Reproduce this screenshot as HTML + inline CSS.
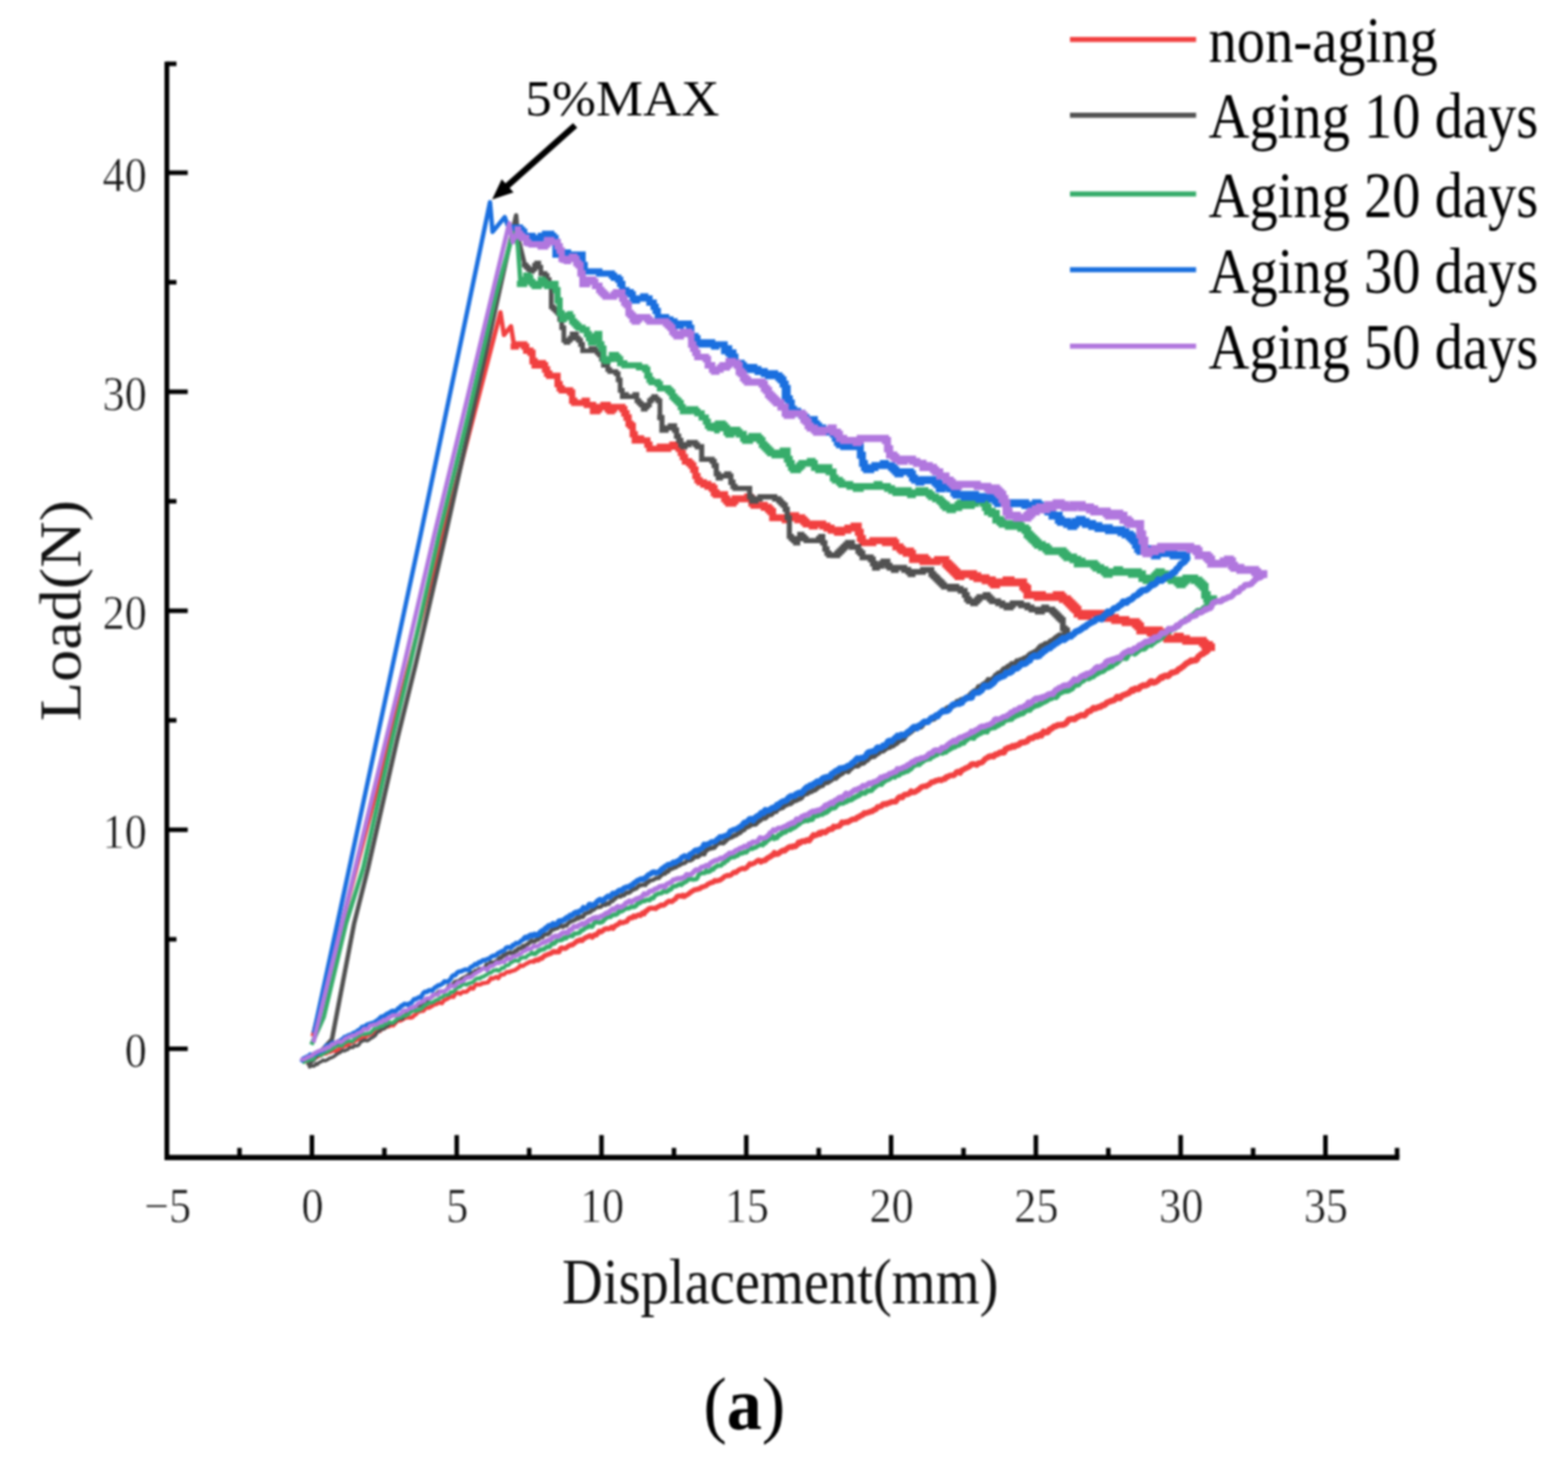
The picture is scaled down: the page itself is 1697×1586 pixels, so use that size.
<!DOCTYPE html>
<html lang="en">
<head>
<meta charset="utf-8">
<title>Load-displacement curves (a)</title>
<style>
html,body{margin:0;padding:0;background:#fff;}
body{width:1697px;height:1586px;overflow:hidden;font-family:"Liberation Serif",serif;}
svg{display:block;}
svg text{font-family:"Liberation Serif",serif;}
</style>
</head>
<body>
<svg width="1697" height="1586" viewBox="0 0 1697 1586">
<defs><filter id="soft" filterUnits="userSpaceOnUse" x="0" y="0" width="1697" height="1586" color-interpolation-filters="sRGB"><feGaussianBlur stdDeviation="0.85"/></filter></defs>
<rect x="0" y="0" width="1697" height="1586" fill="#ffffff"/>
<g filter="url(#soft)">
<g fill="none" stroke="#F14040" stroke-linejoin="miter" stroke-linecap="square">
<path d="M1309.8 700.5 L1308.2 702.5 L1307.1 704.3 L1305.5 705.7 L1304.0 704.4 L1302.3 707.8 L1300.6 707.8 L1298.8 709.4 L1296.9 710.7 L1295.5 713.9 L1294.0 715.0 L1292.2 714.6 L1290.4 715.6 L1289.1 715.0 L1287.7 716.3 L1285.5 717.4 L1283.2 718.9 L1281.9 720.2 L1280.7 721.4 L1279.0 722.4 L1277.4 723.9 L1275.5 724.5 L1273.6 726.9 L1271.9 727.2 L1270.2 728.1 L1268.1 728.2 L1266.0 730.1 L1264.8 731.6 L1263.5 732.1 L1261.5 731.3 L1259.4 732.2 L1258.0 733.8 L1256.6 733.2 L1254.8 734.9 L1252.9 737.0 L1250.6 738.4 L1248.3 739.2 L1246.9 737.7 L1245.5 737.6 L1243.8 739.4 L1242.1 741.2 L1239.7 742.1 L1237.3 741.8 L1235.7 743.0 L1234.0 743.5 L1232.5 745.9 L1231.0 746.1 L1228.7 745.4 L1226.5 747.8 L1225.2 746.7 L1223.9 747.9 L1221.7 750.3 L1219.4 751.1 L1218.0 751.9 L1216.5 752.2 L1214.3 753.3 L1212.1 755.8 L1210.5 754.5 L1208.9 754.4 L1207.4 756.7 L1205.9 757.9 L1203.7 758.5 L1201.4 759.2 L1199.7 760.0 L1197.9 760.7 L1196.3 762.4 L1194.7 763.5 L1192.8 763.7 L1190.8 765.5 L1188.9 765.4 L1186.9 766.4 L1185.2 767.1 L1183.5 766.4 L1181.7 768.1 L1179.9 769.9 L1178.6 769.9 L1177.4 770.2 L1175.4 772.8 L1173.5 774.7 L1171.8 774.3 L1170.2 774.1 L1167.9 775.5 L1165.6 776.2 L1164.3 777.6 L1162.9 778.8 L1160.7 778.2 L1158.4 778.6 L1156.9 778.8 L1155.4 780.8 L1153.7 782.9 L1152.0 784.1 L1150.0 784.7 L1148.0 784.7 L1146.5 785.0 L1145.0 784.9 L1143.0 786.1 L1141.0 786.5 L1139.2 787.9 L1137.4 789.3 L1135.8 789.7 L1134.1 792.6 L1131.8 792.9 L1129.5 792.0 L1128.2 793.7 L1127.0 796.2 L1125.0 795.3 L1122.9 797.4 L1120.9 796.7 L1119.0 798.1 L1117.4 799.2 L1115.8 799.0 L1113.7 799.9 L1111.5 802.6 L1110.2 802.9 L1108.8 803.7 L1106.7 803.6 L1104.6 804.3 L1102.7 806.1 L1100.7 806.9 L1099.2 807.0 L1097.6 808.4 L1095.6 807.7 L1093.6 809.4 L1091.6 809.3 L1089.6 810.6 L1088.1 811.0 L1086.7 814.6 L1084.4 814.4 L1082.1 814.8 L1080.8 815.7 L1079.5 816.5 L1077.3 816.9 L1075.1 819.0 L1073.6 818.6 L1072.0 818.8 L1070.4 819.2" stroke-width="6.7" stroke-linejoin="round" stroke-linecap="round"/>
<path d="M1070.4 819.2 L1068.8 820.2 L1066.7 821.2 L1064.7 823.4 L1062.9 825.3 L1061.1 825.9 L1059.1 826.1 L1057.0 828.2 L1055.0 827.4 L1053.0 827.1 L1051.2 827.6 L1049.4 829.6 L1047.6 830.7 L1045.9 831.4 L1044.4 832.0 L1042.9 833.1 L1040.9 833.8 L1039.0 836.7 L1037.2 835.3 L1035.4 835.7 L1033.9 837.7 L1032.3 839.3 L1030.0 839.3 L1027.7 839.7 L1025.9 841.2 L1024.1 841.2 L1022.6 843.4 L1021.1 843.2 L1018.8 844.8 L1016.6 844.2 L1014.8 844.9 L1012.9 845.1 L1011.3 846.3 L1009.7 846.6 L1007.7 847.1 L1005.8 849.4 L1004.1 849.9 L1002.4 851.2 L1000.5 851.2 L998.6 851.5 L997.0 852.3 L995.5 853.7 L993.6 855.3 L991.8 856.3 L989.7 857.6 L987.7 857.6 L986.1 856.5 L984.6 858.7 L982.7 859.7 L980.7 860.2 L978.7 860.3 L976.7 863.3 L975.4 863.4 L974.1 862.6 L971.8 864.3 L969.5 867.9 L967.6 868.0 L965.7 867.8 L963.9 868.5 L962.0 869.5 L960.6 869.6 L959.1 870.6 L957.4 870.3 L955.8 870.5 L953.9 872.8 L952.0 873.4 L949.9 873.5 L947.9 876.3 L945.9 876.8 L944.0 878.3 L942.0 878.5 L940.1 879.5 L938.6 879.8 L937.2 880.5 L935.4 880.2 L933.5 882.3 L931.5 883.0 L929.6 884.5 L927.9 884.8 L926.3 886.6 L924.4 886.8 L922.4 887.1 L920.9 888.0 L919.4 888.8 L917.4 890.1 L915.5 889.8 L913.4 890.7 L911.2 890.2 L909.8 892.6 L908.4 894.4 L906.0 894.6 L903.7 895.4 L902.2 894.8 L900.7 897.7 L898.8 897.5 L896.8 898.2 L894.9 899.7 L893.0 901.4 L891.0 900.6 L889.1 900.8 L887.8 902.8 L886.4 901.8 L884.1 903.8 L881.8 904.6 L880.3 904.0 L878.8 906.0 L877.3 907.9 L875.7 910.2 L873.3 909.3 L871.0 911.1 L869.2 910.6 L867.4 911.1 L865.9 912.8 L864.3 911.9 L862.4 915.0 L860.5 916.4 L858.8 915.9 L857.1 917.2 L855.4 916.6 L853.7 917.3 L851.4 919.0 L849.2 921.1 L847.4 920.5 L845.7 921.6 L843.9 922.9 L842.1 924.4 L840.1 924.6 L838.1 923.2 L836.8 925.6 L835.5 926.0 L833.6 927.5 L831.8 928.3 L829.9 929.6 L828.0 931.4 L825.7 931.7 L823.5 932.9" stroke-width="6.2" stroke-linejoin="round" stroke-linecap="round"/>
<path d="M823.5 932.9 L822.2 931.6 L820.9 931.2 L819.0 932.3 L817.1 934.1 L815.1 934.8 L813.1 935.7 L811.5 935.1 L809.8 937.4 L807.8 939.6 L805.8 940.7 L803.9 940.0 L801.9 940.8 L800.0 941.5 L798.1 943.1 L796.3 944.7 L794.6 944.2 L792.7 945.7 L790.7 947.5 L789.1 948.0 L787.5 947.6 L785.9 948.2 L784.3 948.8 L782.5 950.5 L780.7 951.8 L779.0 953.0 L777.3 953.1 L775.4 953.8 L773.5 953.2 L771.5 955.3 L769.4 955.4 L767.8 956.5 L766.2 957.0 L764.3 958.9 L762.4 959.5 L760.9 960.1 L759.3 960.5 L757.4 962.0 L755.4 962.5 L753.4 963.0 L751.5 963.3 L749.9 964.3 L748.3 965.4 L746.7 966.4 L745.1 967.9 L742.8 969.2 L740.4 970.7 L739.0 969.1 L737.6 970.4 L735.2 969.8 L732.8 970.5 L731.1 973.2 L729.5 973.9 L727.6 975.9 L725.8 976.1 L724.3 975.4 L722.7 976.3 L721.0 977.7 L719.3 979.4 L717.4 980.1 L715.4 979.7 L713.3 981.2 L711.2 982.1 L709.7 983.7 L708.2 983.3 L706.0 983.3 L703.8 983.2 L701.9 984.0 L700.0 986.3 L698.6 986.3 L697.2 989.3 L695.2 988.4 L693.2 991.1 L691.4 990.4 L689.6 991.1 L687.7 992.7 L685.9 991.7 L684.2 993.7 L682.6 993.4 L680.4 994.6 L678.3 997.6 L676.7 997.9 L675.1 998.6 L673.1 999.0 L671.2 998.3 L669.5 1000.3 L667.7 1001.3 L665.6 1002.4 L663.5 1005.0 L661.9 1003.6 L660.2 1005.0 L658.3 1005.6 L656.3 1005.3 L654.3 1005.8 L652.3 1007.7 L650.4 1008.9 L648.5 1008.2 L647.0 1010.1 L645.4 1012.3 L643.2 1012.1 L641.0 1014.6 L639.7 1013.8 L638.4 1012.8 L636.1 1014.1 L633.7 1015.1 L631.8 1016.3 L629.9 1018.3 L628.1 1017.3 L626.3 1018.7 L625.0 1018.4 L623.7 1019.5 L621.5 1021.4 L619.3 1023.0 L617.3 1023.1 L615.3 1024.1 L613.4 1025.7 L611.5 1026.7 L609.7 1026.5 L607.9 1026.2 L606.4 1027.1 L605.0 1030.5 L603.2 1030.2 L601.3 1030.7 L599.5 1030.0 L597.7 1031.0 L595.9 1032.4 L594.1 1032.7 L591.8 1033.7 L589.5 1034.6 L588.0 1035.8 L586.5 1037.6 L584.5 1037.7 L582.5 1039.5 L581.0 1039.1 L579.5 1039.4 L577.6 1040.7" stroke-width="5.5" stroke-linejoin="round" stroke-linecap="round"/>
<path d="M577.6 1040.7 L575.8 1041.1 L574.0 1041.0 L572.2 1042.0 L569.8 1043.3 L567.5 1044.6 L566.1 1045.5 L564.8 1045.9 L563.0 1045.2 L561.2 1047.8 L559.4 1048.8 L557.6 1050.1 L555.2 1050.8 L552.8 1051.5 L551.0 1052.4 L549.2 1052.1 L547.4 1053.1 L545.5 1054.9 L543.6 1054.9 L541.7 1055.6 L540.4 1057.5 L539.1 1059.1 L537.2 1057.6 L535.3 1058.6 L533.4 1059.6 L531.4 1058.9 L529.7 1061.5 L528.0 1063.5 L526.0 1063.9 L524.1 1064.2 L522.0 1064.5 L519.9 1065.7 L518.0 1066.0 L516.0 1065.6 L514.2 1066.7 L512.3 1070.2 L510.9 1070.2 L509.5 1069.2 L507.3 1071.4 L505.1 1073.5 L503.4 1073.9 L501.6 1073.6 L499.8 1074.5 L498.1 1075.9 L496.1 1075.0 L494.0 1075.0 L492.4 1076.7 L490.8 1079.4 L489.0 1078.8 L487.2 1079.4 L485.7 1080.1 L484.2 1081.4 L482.2 1082.1 L480.2 1083.3 L478.4 1086.1 L476.6 1085.6 L475.2 1085.1 L473.8 1086.2 L471.7 1087.4 L469.6 1087.0 L468.1 1089.0 L466.5 1089.6 L464.6 1090.9 L462.7 1090.9 L460.5 1091.6 L458.3 1094.3 L456.8 1094.5 L455.2 1094.2 L453.5 1095.4 L451.7 1095.8 L450.1 1098.3 L448.5 1099.0 L446.4 1101.2 L444.3 1101.8 L442.7 1101.6 L441.1 1101.6 L439.2 1101.7 L437.3 1102.7 L435.2 1104.1 L433.2 1105.1 L431.8 1104.8 L430.4 1104.6 L428.0 1107.5 L425.7 1110.1 L424.3 1109.1 L423.0 1110.0 L420.7 1111.3 L418.5 1111.0 L416.6 1112.9 L414.6 1113.2 L412.9 1113.6 L411.2 1116.2 L409.8 1115.2 L408.3 1116.2 L406.6 1117.3 L404.9 1118.9 L402.5 1119.4 L400.0 1119.8 L398.5 1120.5 L397.0 1120.6 L395.1 1123.3 L393.3 1124.5 L391.7 1123.5 L390.1 1123.6 L387.8 1124.9 L385.6 1125.9 L384.0 1127.3 L382.4 1127.6 L380.4 1129.0 L378.5 1129.0 L377.0 1131.2 L375.5 1131.6 L373.3 1132.0 L371.1 1133.2 L369.7 1132.8 L368.3 1134.4 L366.1 1136.6 L363.8 1137.8 L361.9 1137.6 L360.1 1137.2 L358.5 1138.3 L357.0 1139.1 L355.1 1138.9 L353.1 1140.6 L351.0 1140.8 L348.9 1140.9 L347.5 1142.4 L346.0 1142.6 L343.8 1144.0 L341.6 1145.0 L340.2 1146.5 L338.9 1145.5 L337.0 1148.2 L335.1 1148.4 L333.0 1150.0" stroke-width="4.5" stroke-linejoin="round" stroke-linecap="round"/>
<path d="M338.4 1122.0 L403.0 873.0 L512.7 450.0 L541.6 338.1 L545.4 362.7 L553.0 353.2 L556.7 375.9" stroke-width="4.8" stroke-linecap="butt" stroke-linejoin="round"/>
<path d="M556.0 375.2H558.2V372.9H560.5H562.7H565.0H567.3V375.2H569.5V377.4V379.7H571.8H574.0V381.9H576.3V386.5V388.7V391.0H578.6V393.2V395.5H580.8V393.2H583.1H587.6V395.5H589.9V397.8V400.0H592.1V402.3V404.5H594.4V406.8H596.6H598.9H601.2H603.4V409.1V411.3V415.8H605.7V418.1V420.4H607.9V422.6H610.2H612.5H614.7V420.4V422.6H617.0V424.9H619.2V427.1V431.7V433.9H621.5V436.2H623.8H626.0H628.3H630.5H632.8V433.9H635.1V436.2V438.4H637.3H639.6H641.8V443.0V445.2H644.1H646.4V443.0H648.6V440.7H650.9V438.4V440.7H653.1V438.4H655.4V436.2V438.4H657.7V443.0H659.9V445.2H662.2V443.0H664.4V440.7H666.7H669.0H671.2V438.4V440.7H673.5V443.0H675.7V447.5H678.0V449.7V452.0H680.3V454.3V456.5V458.8H682.5V461.0H684.8V463.3V465.6V467.8V470.1H687.0V472.3V474.6V476.9H689.3V474.6H693.8V476.9H696.1H698.3H700.6V479.1V481.4H702.9V483.6V485.9H707.4H709.6H711.9H714.2V483.6H716.4H718.7V485.9H720.9H723.2V483.6H727.7V481.4H730.0H732.2V483.6H734.5V485.9H736.8V488.2V490.4H739.0V492.7V494.9H741.3V497.2V499.5H743.5H745.8V501.7H748.1V504.0H750.3V506.2V508.5H752.6V510.8V513.0V515.3H754.8V517.5V519.8H757.1V522.1H759.4H761.6V524.3" stroke-width="6.8"/>
<path d="M761.6 524.3H763.9H766.1V526.6H768.4H770.7V528.8H772.9V533.4H775.2V535.6H777.4H779.7H782.0H784.2V537.9V540.1H786.5V542.4H788.7V544.7H791.0V546.9V544.7H793.3V542.4H795.5V540.1H797.8H800.0H802.3H804.6H806.8H809.1V537.9H811.3V540.1H813.6V542.4V544.7H815.9V546.9H818.1H820.4H822.6H824.9H827.2V549.2H829.4H831.7V551.4H833.9V553.7H836.2V556.0V558.2V560.5H838.5H840.7H845.2H847.5H849.8V562.7H852.0V560.5H854.3H856.5V558.2H858.8H861.1V560.5H863.3V562.7H865.6V560.5H867.8V562.7H870.1V565.0H872.4V567.3H874.6H876.9H879.1V569.5H881.4V567.3H883.7H885.9H888.2H890.4V569.5H892.7H895.0V571.8H897.2H899.5V574.0H901.7H904.0H906.3V576.3H908.5H910.8V574.0H915.3H917.6V571.8H919.8H922.1H924.3V569.5H926.6H928.9V571.8V574.0V576.3H931.1V578.6V580.8V583.1H933.4V585.3V587.6H935.6H937.9H940.2H942.4H944.7V585.3H949.2H951.5H953.7H956.0H958.2V587.6H960.5H962.8V585.3H965.0H967.3V587.6H969.5V589.9V592.1H971.8H974.1V594.4H976.3V596.6H978.6H980.8V598.9H983.1V596.6H985.4V598.9H987.6V603.4V605.7H989.9H992.1H994.4V603.4H996.7H998.9H1001.2V605.7H998.9V607.9H1001.2V605.7H1003.4V607.9H1005.7H1008.0H1012.5H1014.7V605.7H1017.0H1019.3H1021.5H1023.8V607.9V610.2" stroke-width="7.5"/>
<path d="M1023.8 610.2H1026.0V612.5H1028.3V614.7H1030.6V617.0H1032.8V619.2H1035.1V621.5H1037.3V623.8H1039.6V621.5H1041.9H1044.1H1046.4H1048.6H1050.9H1053.2V623.8H1055.4H1057.7V626.0H1059.9H1062.2H1064.5H1066.7V628.3H1069.0H1071.2H1073.5V630.5H1075.8V632.8H1078.0V630.5H1080.3H1082.5H1084.8H1087.1H1089.3V628.3H1091.6H1093.8V630.5H1096.1H1098.4H1100.6H1102.9H1105.1H1107.4V635.1H1109.7V637.3H1111.9V639.6V644.1H1114.2H1116.4H1121.0H1123.2V646.4H1125.5V644.1H1127.7V646.4H1130.0H1132.3H1134.5H1136.8H1139.0H1141.3H1143.6V644.1H1145.8H1148.1V646.4H1150.3V648.6H1152.6H1154.9V650.9H1157.1V653.1H1159.4V655.4H1161.6V657.7H1163.9V659.9H1166.2V662.2V664.4H1168.4H1170.7V666.7H1172.9H1177.5V664.4H1179.7H1182.0H1184.2H1186.5H1188.8H1191.0H1193.3H1195.5V666.7H1197.8V669.0H1200.1H1202.3H1204.6H1206.8V671.2H1209.1H1211.4H1213.6H1215.9H1218.1V673.5H1220.4H1222.7H1224.9H1227.2H1229.4V675.7H1231.7V678.0H1234.0V680.3V682.5H1236.2H1238.5H1240.7H1243.0H1245.3V684.8H1247.5H1249.8V682.5H1252.0H1254.3V684.8H1256.6H1258.8V687.0H1261.1V689.3H1263.3V691.6H1265.6H1263.3H1265.6H1267.9H1270.1H1272.4H1274.6V689.3H1276.9V691.6H1279.2H1281.4H1283.7V693.8H1288.2H1290.5H1292.7H1295.0H1297.2H1299.5H1301.8V696.1H1304.0V698.3H1306.3H1308.5V700.6H1310.8" stroke-width="8.4"/>
</g>
<g fill="none" stroke="#515151" stroke-linejoin="miter" stroke-linecap="square">
<path d="M1154.2 684.2 L1152.1 686.2 L1150.1 687.9 L1148.6 687.9 L1147.0 687.3 L1145.3 688.2 L1143.6 689.5 L1142.3 690.3 L1141.0 691.6 L1138.9 693.3 L1136.9 693.9 L1135.1 695.8 L1133.3 697.1 L1131.5 696.6 L1129.6 698.2 L1127.9 698.9 L1126.2 699.5 L1124.5 701.2 L1122.9 703.2 L1121.0 705.0 L1119.1 705.9 L1117.3 706.9 L1115.5 707.6 L1114.3 708.3 L1113.2 709.5 L1111.2 711.9 L1109.2 712.0 L1107.4 713.2 L1105.7 714.3 L1104.0 714.3 L1102.4 716.5 L1100.5 715.5 L1098.6 717.9 L1096.8 719.2 L1095.0 718.4 L1093.2 720.4 L1091.4 721.1 L1089.8 722.3 L1088.2 723.6 L1086.5 723.9 L1084.8 725.8 L1083.4 727.7 L1082.1 729.9 L1080.4 728.6 L1078.7 730.4 L1077.3 731.1 L1076.0 733.3 L1074.0 735.0 L1072.0 736.4 L1070.8 737.7 L1069.5 735.7 L1067.7 738.4 L1065.9 739.7 L1064.0 740.7 L1062.1 742.5 L1060.5 744.2 L1059.0 743.5 L1057.6 746.2 L1056.3 748.3 L1055.0 747.7 L1053.6 748.6 L1051.6 750.2 L1049.5 752.6 L1048.1 753.9 L1046.7 755.1 L1044.8 755.4 L1042.9 757.0 L1041.5 757.4 L1040.1 757.4 L1038.0 759.1 L1035.8 759.3 L1034.4 762.2 L1033.0 762.9 L1031.6 764.3 L1030.2 764.8 L1028.1 765.6 L1026.0 766.0 L1024.4 766.9 L1022.7 769.5 L1020.9 769.9 L1019.0 771.1 L1017.5 772.4 L1015.9 774.4 L1014.3 774.5 L1012.7 775.7 L1011.3 778.2 L1009.9 778.6 L1007.9 779.1 L1006.0 779.6 L1004.4 781.0 L1002.9 782.2 L1001.1 781.8 L999.3 783.8 L997.9 785.9 L996.5 787.2 L995.0 786.5 L993.5 787.4 L991.7 788.5 L989.9 789.0 L987.9 790.5 L985.9 792.4 L984.6 793.2 L983.3 794.4 L981.8 794.9 L980.3 796.8 L978.4 799.8 L976.5 801.0 L974.5 801.5 L972.5 802.5 L971.3 804.2 L970.1 805.2 L968.4 805.1 L966.8 807.4 L964.8 807.9 L962.8 809.2 L961.0 809.3 L959.2 810.2 L957.6 811.5 L955.9 812.9" stroke-width="5.6" stroke-linejoin="round" stroke-linecap="round"/>
<path d="M955.9 812.9 L954.5 812.2 L953.0 812.7 L951.5 815.3 L950.0 816.0 L948.1 817.2 L946.2 819.2 L944.7 818.8 L943.1 819.5 L940.9 820.7 L938.7 823.2 L937.1 823.2 L935.4 825.8 L934.0 826.6 L932.5 825.6 L930.7 827.3 L928.9 829.3 L927.0 829.4 L925.1 829.4 L923.6 829.8 L922.0 831.7 L920.0 833.2 L918.1 835.6 L916.2 834.6 L914.3 834.7 L912.8 836.4 L911.2 837.9 L909.3 838.6 L907.3 840.3 L905.9 841.4 L904.6 842.8 L902.7 841.8 L900.7 843.9 L899.1 845.1 L897.5 846.1 L895.8 847.3 L894.1 847.2 L892.2 847.9 L890.2 850.6 L888.6 850.6 L887.0 851.7 L885.0 852.8 L883.0 854.7 L881.8 855.5 L880.7 855.0 L878.7 856.9 L876.7 857.4 L875.3 858.0 L873.8 859.4 L871.5 859.6 L869.1 860.8 L867.8 863.6 L866.4 864.5 L864.7 865.2 L863.1 865.8 L861.1 866.8 L859.1 866.9 L857.2 869.0 L855.3 870.3 L853.6 869.7 L851.9 871.2 L850.2 871.8 L848.4 873.0 L847.1 874.5 L845.8 874.7 L843.6 875.6 L841.4 875.9 L840.2 878.7 L838.9 878.5 L836.9 879.6 L834.9 882.0 L833.3 882.2 L831.6 881.7 L829.9 884.4 L828.2 885.9 L826.4 885.8 L824.7 885.3 L823.0 888.1 L821.3 889.1 L819.6 890.5 L817.8 892.4 L815.9 892.4 L814.0 892.8 L812.5 892.7 L811.0 894.5 L809.0 895.4 L806.9 894.9 L805.5 898.4 L804.1 898.4 L802.4 899.9 L800.7 901.6 L798.9 902.0 L797.2 903.8 L795.2 904.4 L793.1 905.5 L791.7 906.4 L790.3 906.6 L788.7 907.3 L787.1 908.6 L785.0 910.6 L782.9 912.8 L781.1 912.2 L779.2 912.7 L777.6 912.6 L776.1 913.8 L774.6 915.4 L773.1 917.5 L770.9 918.0 L768.6 918.6 L766.8 918.8 L765.0 920.4 L763.5 921.2 L762.1 924.7 L760.5 924.4 L758.9 923.8 L757.2 925.6 L755.6 927.3 L753.6 927.2 L751.6 927.7 L750.2 929.0" stroke-width="5.2" stroke-linejoin="round" stroke-linecap="round"/>
<path d="M750.2 929.0 L748.9 930.7 L746.6 931.7 L744.3 930.7 L742.8 932.7 L741.4 934.1 L739.2 934.7 L737.0 935.5 L735.1 937.0 L733.3 936.4 L731.6 939.0 L729.9 939.0 L728.0 940.2 L726.2 941.0 L724.7 940.8 L723.2 943.6 L721.5 943.4 L719.7 945.9 L717.7 945.6 L715.7 947.7 L714.4 948.5 L713.1 950.5 L710.9 950.5 L708.8 951.4 L706.8 952.6 L704.9 953.1 L703.1 953.5 L701.4 955.3 L699.9 955.2 L698.5 958.2 L696.9 957.6 L695.2 958.2 L692.9 958.2 L690.6 959.7 L688.8 961.7 L686.9 962.3 L685.6 963.2 L684.3 962.7 L682.2 965.5 L680.0 966.6 L678.7 966.3 L677.4 966.9 L675.3 969.3 L673.2 969.1 L671.5 970.7 L669.8 969.6 L667.8 970.7 L665.9 972.7 L664.4 973.6 L662.9 975.5 L660.9 975.8 L658.9 978.6 L657.0 978.0 L655.1 979.7 L653.7 978.3 L652.3 979.7 L650.0 981.7 L647.7 982.1 L646.3 981.7 L644.9 982.6 L642.7 984.7 L640.5 985.3 L639.1 987.3 L637.7 987.6 L635.7 988.4 L633.8 988.9 L632.3 990.3 L630.8 992.8 L628.5 992.2 L626.2 994.3 L624.8 993.2 L623.3 995.2 L621.4 996.2 L619.5 997.0 L618.1 997.4 L616.6 998.1 L614.8 999.7 L613.1 1001.9 L611.1 1002.0 L609.1 1003.5 L607.0 1002.1 L605.0 1003.2 L603.2 1004.8 L601.5 1005.0 L599.7 1006.0 L597.9 1006.1 L596.2 1008.0 L594.6 1010.1 L592.6 1011.5 L590.7 1011.5 L588.9 1011.7 L587.1 1014.5 L585.7 1013.3 L584.3 1015.0 L582.4 1017.2 L580.5 1017.4 L578.5 1019.2 L576.5 1019.1 L575.2 1018.4 L573.9 1019.7 L571.6 1021.8 L569.3 1023.2 L567.7 1024.8 L566.2 1024.1 L564.1 1026.5 L562.1 1026.6 L560.7 1027.2 L559.4 1029.3 L557.6 1029.4 L555.8 1031.5 L553.7 1031.7 L551.5 1031.0 L550.0 1032.1 L548.5 1032.5 L546.8 1034.2 L545.1 1034.0 L542.9 1036.6 L540.8 1036.9 L539.0 1039.2" stroke-width="4.6" stroke-linejoin="round" stroke-linecap="round"/>
<path d="M539.0 1039.2 L537.3 1040.2 L535.6 1041.0 L533.9 1042.5 L532.4 1041.4 L530.9 1041.3 L528.6 1044.0 L526.3 1043.9 L524.9 1046.7 L523.5 1048.5 L521.6 1048.5 L519.8 1048.5 L517.9 1049.0 L516.0 1051.2 L514.3 1050.6 L512.6 1052.4 L511.0 1053.0 L509.4 1052.7 L507.2 1055.2 L505.0 1056.4 L503.6 1057.5 L502.3 1057.8 L500.2 1059.1 L498.2 1060.4 L496.8 1061.6 L495.4 1061.9 L493.8 1062.2 L492.1 1062.8 L490.0 1065.5 L487.9 1066.1 L486.7 1067.9 L485.5 1067.0 L483.9 1070.9 L482.3 1071.9 L480.2 1073.2 L478.1 1073.5 L476.2 1074.1 L474.4 1073.5 L472.8 1075.8 L471.2 1075.8 L470.1 1077.4 L468.9 1078.2 L466.7 1080.2 L464.4 1081.7 L463.3 1082.5 L462.2 1084.9 L460.0 1084.1 L457.9 1086.0 L456.6 1086.3 L455.3 1088.1 L453.2 1089.1 L451.1 1089.6 L449.5 1090.0 L447.9 1092.3 L446.6 1093.8 L445.2 1095.3 L443.2 1094.0 L441.1 1095.9 L439.6 1097.7 L438.1 1099.6 L436.8 1100.4 L435.5 1103.2 L433.7 1102.3 L431.9 1103.1 L430.4 1102.4 L428.8 1105.6 L427.2 1106.2 L425.6 1108.0 L423.3 1107.9 L421.1 1108.8 L419.5 1110.9 L418.0 1111.9 L416.7 1112.1 L415.4 1113.9 L413.6 1114.3 L411.9 1115.2 L409.8 1116.7 L407.7 1118.4 L406.4 1120.8 L405.0 1121.9 L403.2 1123.1 L401.3 1124.1 L399.8 1125.2 L398.1 1126.7 L396.1 1126.6 L394.1 1125.9 L392.2 1127.2 L390.3 1127.8 L389.2 1129.9 L388.0 1131.5 L385.8 1132.3 L383.5 1131.9 L382.1 1133.9 L380.6 1133.9 L378.3 1134.2 L376.0 1136.5 L374.5 1136.8 L372.9 1137.8 L370.9 1137.0 L368.8 1139.0 L367.2 1139.9 L365.6 1140.6 L363.6 1141.8 L361.7 1143.5 L360.2 1144.4 L358.7 1145.0 L356.6 1145.6 L354.4 1147.3 L353.0 1147.8 L351.6 1148.5 L349.6 1147.7 L347.6 1149.4 L345.6 1150.0 L343.5 1152.3 L341.9 1151.4 L340.2 1154.0 L338.5 1154.2 L336.8 1153.6 L335.0 1155.0" stroke-width="3.7" stroke-linejoin="round" stroke-linecap="round"/>
<path d="M333.0 1154.0 L359.3 1125.0 L383.2 1000.0 L398.3 940.0 L430.0 800.0 L449.7 720.0 L482.0 580.0 L558.6 233.1 L560.5 256.7 L565.3 275.7 L568.1 287.0" stroke-width="4.8" stroke-linecap="butt" stroke-linejoin="round"/>
<path d="M567.3 287.0H569.5V289.3H571.8V291.5H574.0V293.8H576.3V291.5H578.6V287.0H580.8V284.8H583.1V287.0V289.3H585.3V293.8V296.1H587.6H589.9V298.3H592.1V300.6V302.8H594.4V305.1V307.4V309.6H596.6V314.1V316.4V320.9V323.2V325.4V327.7V330.0V332.2H598.9V334.5H601.2V336.7H603.4V339.0H605.7V341.3V343.5V345.8H607.9V348.0V352.6V354.8H610.2V357.1V359.3V361.6V363.9V366.1V368.4H612.5V370.6H614.7V368.4H617.0V366.1H619.2V363.9V361.6H621.5H623.8V363.9V366.1H626.0V368.4H628.3V370.6V372.9H630.5V375.2V377.4V379.7H632.8H635.1H637.3H639.6V377.4H641.8H644.1V379.7H646.4V381.9H648.6V384.2H650.9V386.5V388.7H653.1V391.0V395.5H655.4H657.7V397.8V400.0H659.9V402.3H662.2H664.4H666.7V404.5H669.0V406.8V409.1V411.3H671.2V413.6V415.8V418.1V420.4V422.6H673.5V424.9V429.4H675.7V427.1H678.0V429.4H680.3H682.5H684.8V431.7V429.4H687.0V427.1H689.3V429.4V433.9H691.6V436.2H693.8V438.4H696.1V440.7V443.0H698.3V440.7H700.6V438.4H702.9V436.2V433.9H705.1V431.7H707.4V429.4H709.6V431.7H711.9V433.9H714.2V438.4V443.0V445.2V447.5V449.7V452.0" stroke-width="5.1"/>
<path d="M714.2 452.0H716.4V456.5V458.8V461.0V463.3V465.6H718.7H720.9V463.3H723.2H725.5V461.0H727.7H730.0V463.3V465.6H732.2V470.1V472.3H734.5V474.6V476.9H736.8V479.1V481.4H739.0V483.6H741.3V481.4H743.5H745.8V479.1H748.1H750.3H752.6V481.4H754.8V483.6H757.1H759.4V485.9V488.2V490.4V492.7V494.9V497.2H763.9H766.1H768.4H770.7V499.5H772.9V501.7V504.0H775.2V508.5V510.8V513.0H777.4V515.3V517.5H779.7V515.3H782.0H784.2H786.5V513.0H788.7V515.3H791.0V517.5V519.8V522.1H793.3V524.3V526.6H795.5V528.8H797.8H800.0H802.3H804.6H806.8H809.1H811.3V531.1V533.4V537.9H813.6V540.1V542.4H815.9H818.1V540.1H820.4H822.6V537.9H824.9H827.2H829.4H831.7H833.9H836.2H838.5V540.1H840.7H843.0V542.4H845.2V544.7H847.5V546.9H849.8V549.2V551.4H852.0V553.7V556.0V558.2V560.5H854.3V562.7V565.0V567.3V569.5V571.8V574.0V576.3V578.6V580.8H856.5V583.1H858.8V585.3H861.1V587.6H863.3V585.3V583.1H865.6V580.8V578.6H867.8V580.8H870.1V583.1H872.4V585.3H874.6H876.9H879.1H881.4H883.7H885.9V583.1H888.2V580.8H890.4V583.1V587.6H892.7V589.9V592.1V594.4H895.0V596.6V598.9H897.2V601.2H901.7" stroke-width="5.6"/>
<path d="M901.7 601.2H904.0H906.3V598.9H908.5V596.6H910.8V594.4H913.0V592.1H915.3V589.9H917.6V587.6H919.8H922.1V592.1H924.3H926.6H928.9V594.4V596.6H931.1V598.9H933.4V601.2V603.4H935.6H937.9H940.2H942.4V605.7H944.7V610.2H946.9V612.5V614.7H949.2V612.5H951.5H953.7V610.2H956.0V607.9H958.2H960.5V612.5H962.8V614.7H965.0H967.3V617.0H969.5V614.7H971.8H974.1H976.3H978.6V617.0H980.8H983.1V619.2H985.4V621.5H987.6V619.2H989.9H992.1H994.4H996.7H998.9V617.0H1001.2H1003.4H1005.7H1008.0V619.2V621.5H1010.2V623.8H1012.5V626.0H1014.7V628.3H1017.0V630.5H1019.3V632.8H1021.5V635.1H1026.0H1028.3V637.3H1030.6H1032.8V635.1H1035.1V637.3H1037.3H1039.6V639.6H1041.9H1044.1V641.8V644.1H1046.4V648.6H1048.6V650.9H1050.9H1053.2V653.1H1055.4V650.9H1057.7V648.6H1059.9V646.4H1062.2H1064.5H1066.7V644.1H1069.0V646.4H1071.2V648.6H1073.5V650.9H1075.8H1078.0H1080.3V653.1H1082.5H1084.8V655.4H1087.1H1089.3V657.7H1091.6H1093.8V655.4H1096.1V653.1H1098.4H1100.6H1102.9H1105.1V655.4H1107.4H1109.7H1111.9V657.7H1114.2H1116.4V659.9H1118.7H1123.2V662.2H1125.5H1127.7V659.9H1130.0V657.7H1132.3V659.9H1134.5H1136.8H1139.0V662.2H1141.3V664.4H1143.6V666.7H1145.8V669.0H1148.1V671.2H1150.3V675.7V678.0V680.3H1152.6V682.5H1154.9V684.8" stroke-width="6.3"/>
</g>
<g fill="none" stroke="#37AD6B" stroke-linejoin="miter" stroke-linecap="square">
<path d="M1312.7 650.4 L1310.6 651.0 L1309.1 652.0 L1307.8 653.5 L1306.5 654.6 L1305.0 657.0 L1303.5 657.2 L1301.9 658.9 L1300.2 661.1 L1298.3 660.9 L1296.4 661.0 L1295.1 662.0 L1293.8 663.4 L1292.0 664.9 L1290.1 666.2 L1288.3 667.4 L1286.5 669.9 L1285.0 670.0 L1283.5 670.1 L1282.0 672.4 L1280.6 672.7 L1279.0 673.8 L1277.4 675.6 L1275.3 677.9 L1273.3 677.7 L1271.8 680.4 L1270.2 680.6 L1269.1 681.0 L1267.9 680.8 L1265.8 683.8 L1263.6 683.8 L1262.4 685.0 L1261.3 685.7 L1259.3 687.9 L1257.4 690.5 L1255.7 691.5 L1253.9 692.7 L1252.2 693.7 L1250.5 693.8 L1248.9 696.1 L1247.3 696.0 L1245.9 698.4 L1244.5 698.0 L1242.2 698.7 L1239.9 701.1 L1238.6 702.4 L1237.3 702.5 L1235.3 702.0 L1233.2 703.7 L1231.3 705.3 L1229.5 706.8 L1228.1 707.8 L1226.8 706.2 L1224.8 706.7 L1222.8 707.3 L1220.9 709.2 L1219.1 712.7 L1217.5 712.5 L1215.9 711.3 L1214.5 712.3 L1213.0 713.1 L1211.3 715.3 L1209.6 716.8 L1207.6 718.4 L1205.7 718.1 L1203.6 721.2 L1201.5 721.9 L1200.2 722.7 L1199.0 723.2 L1197.2 723.5 L1195.3 725.5 L1193.8 726.6 L1192.2 727.1 L1190.5 727.4 L1188.8 728.8 L1186.7 729.6 L1184.5 730.9 L1183.1 732.5 L1181.7 731.9 L1180.0 733.6 L1178.2 734.7 L1176.1 733.8 L1174.0 735.1 L1172.4 737.0 L1170.7 737.6 L1168.9 738.9 L1167.2 741.3 L1165.5 741.6 L1163.7 741.9 L1162.0 743.3 L1160.3 745.6 L1158.4 746.5 L1156.4 747.8 L1154.8 748.1 L1153.1 748.2 L1151.8 748.3 L1150.5 748.7 L1148.4 750.0 L1146.3 749.3 L1144.7 753.0 L1143.0 754.9 L1141.4 754.8 L1139.8 754.2 L1137.9 756.2 L1136.0 755.8 L1133.9 757.9 L1131.8 759.2 L1130.5 759.9 L1129.1 759.5 L1127.3 761.5 L1125.4 762.4 L1123.7 763.4 L1122.1 763.8 L1120.1 764.3 L1118.2 765.5 L1116.4 766.3 L1114.6 768.8 L1112.9 768.6 L1111.1 768.7 L1109.0 770.5 L1106.8 772.6 L1105.3 772.8 L1103.8 772.7 L1101.8 774.3 L1099.8 774.0 L1098.4 775.9 L1096.9 776.1 L1094.6 778.6 L1092.4 778.9 L1090.9 778.3 L1089.3 779.5 L1087.4 779.2 L1085.5 782.5 L1084.0 783.3 L1082.6 783.2 L1080.5 785.4 L1078.4 785.9 L1076.9 787.4 L1075.4 787.5" stroke-width="6.0" stroke-linejoin="round" stroke-linecap="round"/>
<path d="M1075.4 787.5 L1073.7 787.5 L1071.9 788.8 L1070.1 789.0 L1068.3 792.3 L1066.1 791.6 L1063.8 792.6 L1062.6 792.4 L1061.3 794.2 L1059.4 794.4 L1057.5 796.1 L1055.6 796.7 L1053.8 799.3 L1052.0 799.0 L1050.2 797.8 L1048.0 799.8 L1045.8 801.4 L1044.6 802.0 L1043.3 804.5 L1041.3 804.6 L1039.3 805.6 L1037.5 806.8 L1035.7 806.8 L1033.8 808.5 L1031.9 808.9 L1030.4 809.6 L1028.9 810.5 L1027.2 811.7 L1025.4 812.4 L1023.6 814.3 L1021.9 814.3 L1019.7 815.5 L1017.5 814.6 L1015.8 814.9 L1014.1 817.2 L1012.2 816.9 L1010.4 818.9 L1008.5 818.6 L1006.6 821.5 L1005.0 821.1 L1003.3 822.2 L1001.4 821.9 L999.4 824.0 L998.1 824.7 L996.8 825.7 L994.7 827.8 L992.5 827.1 L990.6 828.5 L988.7 828.1 L986.9 831.3 L985.2 832.9 L983.8 832.5 L982.5 834.8 L980.3 835.2 L978.2 836.2 L976.6 836.8 L975.0 836.6 L973.1 839.2 L971.3 839.0 L969.8 839.4 L968.3 841.4 L966.6 840.5 L964.9 841.2 L962.7 843.2 L960.5 844.1 L958.9 844.1 L957.3 846.0 L955.7 846.8 L954.1 849.2 L952.0 848.3 L950.0 849.9 L948.5 849.6 L946.9 852.2 L945.1 853.3 L943.2 855.7 L941.1 856.0 L939.0 856.3 L937.6 857.1 L936.2 858.8 L934.2 858.6 L932.2 858.5 L930.1 861.1 L928.1 861.7 L926.6 862.5 L925.1 863.6 L923.5 863.8 L921.9 865.5 L919.9 866.2 L917.9 866.3 L916.1 867.9 L914.3 868.0 L912.4 869.4 L910.6 869.4 L909.1 869.9 L907.6 870.3 L905.7 871.8 L903.8 874.2 L901.7 874.8 L899.6 875.0 L897.9 876.4 L896.2 878.0 L894.5 879.4 L892.7 880.0 L891.3 879.6 L889.9 881.6 L887.9 881.0 L886.0 882.6 L883.8 883.3 L881.7 882.2 L880.4 884.7 L879.1 887.1 L876.8 887.0 L874.4 888.5 L873.0 888.3 L871.5 888.1 L869.7 889.1 L867.8 889.5 L866.2 890.7 L864.6 892.2 L862.6 893.2 L860.6 895.1 L858.6 896.2 L856.6 897.1 L855.1 898.3 L853.6 897.7 L852.0 898.7 L850.4 900.5 L848.6 901.1 L846.8 901.4 L844.7 903.4 L842.7 904.2 L840.8 906.9 L838.9 906.6 L837.5 907.8 L836.0 905.5 L834.3 906.4 L832.5 908.6 L830.4 909.8 L828.2 912.4 L826.9 912.6" stroke-width="5.6" stroke-linejoin="round" stroke-linecap="round"/>
<path d="M826.9 912.6 L825.5 915.0 L823.8 914.5 L822.1 914.4 L819.9 916.0 L817.8 917.3 L816.0 917.8 L814.1 919.0 L812.6 918.2 L811.0 918.9 L809.3 920.7 L807.7 922.9 L805.4 922.5 L803.2 924.0 L801.5 923.5 L799.7 924.9 L798.0 926.6 L796.2 926.6 L794.7 928.0 L793.2 927.2 L791.0 928.6 L788.9 929.6 L787.3 931.8 L785.8 931.1 L784.0 934.4 L782.1 934.6 L780.5 936.9 L778.8 937.1 L776.7 937.0 L774.5 938.7 L773.3 939.1 L772.0 941.3 L770.3 940.9 L768.5 943.3 L766.4 944.0 L764.4 942.6 L762.7 945.0 L761.1 945.1 L758.9 945.3 L756.7 946.3 L755.4 948.8 L754.1 951.3 L752.1 951.8 L750.1 952.2 L748.4 951.6 L746.7 951.8 L745.0 951.8 L743.2 954.0 L741.1 955.1 L739.0 956.3 L737.5 957.9 L736.1 957.0 L733.8 958.0 L731.5 959.3 L729.6 959.5 L727.6 960.7 L726.1 962.7 L724.6 962.9 L723.1 964.5 L721.5 965.5 L719.7 965.4 L717.9 965.0 L716.1 966.8 L714.4 967.2 L712.3 967.6 L710.2 968.7 L708.6 969.8 L707.1 972.4 L705.0 972.3 L703.0 974.5 L700.9 974.1 L698.8 974.6 L697.3 975.6 L695.8 975.5 L694.1 976.1 L692.4 977.6 L690.4 978.1 L688.3 980.6 L686.6 981.7 L684.9 981.6 L682.9 982.0 L680.8 983.2 L679.0 983.4 L677.2 983.5 L675.5 984.6 L673.8 986.0 L672.1 986.7 L670.3 986.4 L668.5 989.1 L666.6 990.2 L664.6 990.3 L662.5 991.0 L660.6 992.8 L658.8 992.2 L657.2 993.1 L655.6 994.5 L654.0 995.5 L652.5 997.7 L650.7 998.4 L648.9 998.9 L646.7 998.3 L644.6 998.0 L642.8 999.9 L641.0 1003.2 L639.3 1003.0 L637.7 1002.1 L635.7 1004.0 L633.6 1003.8 L632.1 1006.0 L630.6 1007.0 L629.0 1007.4 L627.3 1009.7 L625.1 1010.3 L622.8 1010.7 L621.2 1011.2 L619.7 1013.4 L618.0 1012.9 L616.2 1013.3 L614.4 1013.1 L612.6 1015.8 L610.8 1015.2 L609.0 1017.0 L607.2 1017.7 L605.3 1017.6 L603.2 1018.1 L601.2 1020.0 L599.7 1021.6 L598.3 1021.2 L596.5 1022.6 L594.8 1025.0 L592.4 1025.0 L590.0 1026.3 L588.8 1027.6 L587.5 1027.7 L585.4 1028.3 L583.3 1029.3 L581.2 1030.9 L579.2 1032.5 L577.3 1032.6" stroke-width="4.9" stroke-linejoin="round" stroke-linecap="round"/>
<path d="M577.3 1032.6 L575.5 1031.1 L574.2 1032.8 L572.8 1033.6 L571.0 1034.3 L569.1 1036.7 L566.9 1036.3 L564.8 1037.0 L563.1 1037.5 L561.5 1040.4 L559.8 1040.3 L558.2 1039.7 L556.6 1039.9 L555.0 1041.4 L552.8 1042.1 L550.5 1044.7 L549.0 1045.1 L547.4 1045.2 L545.3 1047.9 L543.1 1047.8 L541.3 1050.0 L539.5 1051.0 L537.6 1049.8 L535.8 1050.6 L534.1 1050.5 L532.5 1052.1 L530.8 1053.2 L529.1 1053.1 L527.1 1055.2 L525.1 1055.9 L523.2 1057.5 L521.3 1057.4 L519.5 1059.5 L517.8 1059.0 L515.9 1059.4 L514.0 1060.9 L512.2 1062.9 L510.5 1063.7 L508.7 1064.4 L507.0 1064.6 L505.3 1066.1 L503.6 1065.7 L501.6 1065.3 L499.6 1066.6 L498.0 1068.6 L496.4 1068.5 L494.6 1069.7 L492.8 1071.4 L491.3 1073.1 L489.9 1074.0 L487.8 1074.0 L485.7 1076.7 L484.2 1076.8 L482.7 1077.3 L480.6 1077.8 L478.5 1079.6 L476.6 1080.1 L474.6 1081.9 L473.1 1082.3 L471.5 1082.8 L469.5 1084.5 L467.4 1085.4 L465.6 1085.5 L463.9 1086.0 L462.0 1087.3 L460.2 1088.5 L458.8 1089.3 L457.4 1090.9 L455.8 1092.3 L454.2 1093.3 L452.0 1093.6 L449.9 1094.7 L448.0 1093.8 L446.2 1094.7 L444.4 1095.5 L442.7 1097.8 L440.8 1098.7 L439.0 1100.0 L437.4 1099.8 L435.8 1099.6 L433.8 1101.5 L431.8 1101.2 L429.8 1103.0 L427.9 1104.8 L426.5 1105.8 L425.2 1107.2 L423.2 1107.3 L421.2 1106.4 L419.0 1108.2 L416.9 1108.4 L415.6 1109.9 L414.3 1110.7 L412.5 1111.0 L410.6 1111.6 L408.5 1112.9 L406.5 1113.4 L404.8 1114.1 L403.2 1115.8 L401.6 1117.8 L400.0 1118.4 L397.8 1118.9 L395.7 1119.2 L393.9 1119.7 L392.1 1119.2 L390.2 1120.0 L388.3 1121.9 L386.7 1121.6 L385.1 1124.0 L383.3 1125.1 L381.6 1127.3 L379.8 1127.6 L378.1 1126.9 L376.4 1126.8 L374.7 1128.2 L372.4 1129.2 L370.1 1132.1 L368.4 1132.0 L366.8 1131.5 L365.3 1132.0 L363.8 1132.6 L361.9 1133.9 L360.1 1135.1 L358.1 1136.5 L356.2 1137.3 L354.5 1138.7 L352.7 1139.1 L350.7 1140.3 L348.7 1141.3 L347.2 1142.6 L345.8 1141.0 L343.8 1141.7 L341.7 1142.8 L339.8 1145.8 L337.9 1147.2 L336.0 1146.6 L334.0 1148.0 L332.2 1148.8 L330.3 1148.6 L329.0 1150.0" stroke-width="4.0" stroke-linejoin="round" stroke-linecap="round"/>
<path d="M337.0 1131.0 L350.4 1101.0 L374.4 1000.0 L393.0 940.0 L424.5 800.0 L443.7 720.0 L475.0 580.0 L506.7 450.0 L536.5 320.0 L556.7 247.3 L560.5 266.2 L563.4 307.8" stroke-width="4.8" stroke-linecap="butt" stroke-linejoin="round"/>
<path d="M562.7 307.4H565.0H567.3V302.8H569.5V300.6V298.3H571.8V300.6H574.0V302.8V305.1H576.3V307.4H578.6V309.6H580.8V311.9V309.6H583.1V307.4H585.3V302.8H587.6V305.1H589.9V307.4H592.1V309.6H596.6V307.4H598.9H601.2V309.6V311.9V314.1H603.4V316.4V318.7V323.2V325.4H605.7V327.7V330.0V332.2V334.5V339.0H607.9V341.3V343.5V345.8H610.2V343.5H612.5H614.7V341.3H617.0V336.7V339.0V341.3V343.5H619.2V348.0H621.5V350.3H623.8V352.6H626.0V354.8H628.3H630.5V357.1H632.8V354.8V357.1H635.1V359.3V361.6H637.3V363.9V366.1H639.6V368.4V370.6H641.8V368.4H644.1V366.1V363.9H646.4V361.6H648.6V366.1V368.4V370.6V372.9H650.9V375.2V377.4H653.1V379.7V381.9V384.2V388.7H655.4V391.0H657.7V388.7H659.9H662.2V384.2H664.4H666.7V386.5H669.0V388.7H671.2V391.0V393.2H673.5H675.7V395.5H678.0H682.5H684.8H687.0H689.3H691.6V397.8H693.8H696.1H698.3V400.0H700.6V402.3V406.8H702.9V409.1V411.3H705.1V413.6H707.4H709.6H711.9V415.8H714.2V420.4H716.4H718.7H723.2V422.6H725.5V424.9H727.7V429.4H730.0V431.7H732.2V433.9H734.5V436.2H736.8V440.7H739.0V445.2H743.5H745.8V443.0H748.1H750.3H752.6V445.2H754.8V447.5H757.1H759.4V452.0H761.6H763.9V456.5H766.1V458.8V461.0H768.4V463.3H770.7V461.0H772.9V463.3" stroke-width="6.6"/>
<path d="M772.9 463.3H775.2V461.0H777.4V458.8H779.7H782.0H779.7H777.4V461.0H775.2V463.3V465.6H772.9H775.2V463.3H777.4V458.8H779.7V456.5V458.8H782.0V461.0H784.2V463.3H786.5V465.6V467.8H788.7V470.1H791.0V465.6H793.3H795.5H797.8V467.8H800.0V470.1H802.3H804.6V472.3V474.6H806.8V476.9H809.1H811.3V474.6H813.6V472.3H815.9H818.1H820.4V474.6H822.6V476.9H824.9V479.1V481.4H827.2V483.6H829.4V485.9H831.7V488.2H833.9V490.4H836.2H838.5V492.7H840.7H843.0H845.2V490.4H847.5V488.2H849.8V485.9V488.2H852.0V490.4V492.7V494.9V497.2H854.3V501.7H856.5V504.0V506.2H858.8V508.5H861.1H863.3V506.2H865.6V504.0H867.8V501.7H870.1H872.4H874.6H876.9V499.5H879.1V501.7H881.4V504.0V506.2H883.7H885.9V508.5H890.4H892.7V506.2H895.0H897.2V510.8H899.5H901.7V515.3V517.5H904.0V519.8H906.3H908.5V522.1H910.8V524.3H913.0H915.3H917.6H919.8V526.6H922.1H924.3H926.6V528.8H928.9H931.1V526.6H933.4H937.9H940.2H942.4H944.7H946.9H949.2V524.3H951.5V526.6H953.7H956.0H958.2H960.5V528.8H962.8H965.0V531.1H967.3H969.5V533.4H971.8H974.1H976.3V531.1H978.6H980.8H983.1V533.4H985.4V535.6H987.6V533.4H989.9H992.1H994.4V531.1H996.7H998.9H1001.2V533.4H1003.4H1005.7V535.6H1008.0V537.9H1010.2H1012.5V540.1H1017.0V542.4H1019.3V544.7H1021.5V546.9" stroke-width="7.3"/>
<path d="M1021.5 546.9H1023.8V549.2H1026.0H1028.3V551.4H1030.6V549.2H1032.8H1035.1H1037.3V546.9H1039.6V544.7H1041.9H1044.1V546.9H1046.4H1048.6H1050.9V544.7H1053.2H1055.4V542.4H1057.7H1059.9H1062.2H1064.5V544.7H1066.7V546.9V549.2H1069.0V553.7H1071.2H1073.5V556.0H1075.8H1078.0V558.2V562.7H1080.3H1082.5V565.0H1084.8V567.3H1087.1H1089.3H1091.6V569.5H1093.8H1096.1V567.3H1098.4H1100.6H1102.9V569.5H1105.1V571.8H1107.4H1109.7V574.0H1111.9V576.3V578.6H1114.2V580.8H1116.4V583.1H1118.7V585.3H1121.0V587.6H1123.2V589.9H1125.5H1127.7V592.1H1130.0H1132.3V594.4H1134.5V596.6H1136.8H1139.0H1141.3H1143.6H1145.8H1150.3V598.9H1152.6V601.2H1154.9V603.4H1157.1H1159.4H1161.6V605.7H1163.9H1166.2V610.2H1168.4V607.9H1170.7V610.2H1172.9H1175.2H1177.5H1182.0H1184.2V612.5H1186.5V614.7H1188.8H1191.0V617.0H1193.3H1195.5V619.2H1197.8V621.5H1200.1V619.2H1202.3H1204.6H1206.8H1209.1V617.0H1211.4V619.2H1213.6H1215.9H1218.1H1220.4H1222.7H1224.9V621.5H1227.2V619.2H1229.4H1231.7V621.5H1234.0H1236.2V626.0H1238.5H1240.7V628.3H1243.0V626.0H1245.3H1247.5H1249.8V623.8H1252.0V621.5H1254.3V619.2H1256.6V621.5H1258.8H1261.1V623.8H1263.3H1265.6V626.0H1267.9V628.3H1270.1H1274.6V630.5H1276.9V632.8H1279.2V630.5H1281.4V628.3H1283.7V626.0H1285.9H1288.2H1290.5H1292.7V628.3H1295.0H1297.2V630.5H1299.5V632.8H1301.8V635.1H1304.0V637.3V639.6V641.8V644.1H1306.3V646.4V648.6H1308.5H1310.8H1313.1V650.9" stroke-width="8.1"/>
</g>
<g fill="none" stroke="#1A6FDF" stroke-linejoin="miter" stroke-linecap="square">
<path d="M1284.7 604.2 L1283.7 605.6 L1282.3 608.0 L1280.9 608.9 L1279.5 609.9 L1277.9 610.6 L1276.2 613.5 L1274.8 615.4 L1273.4 615.9 L1272.3 618.2 L1271.3 619.9 L1269.2 619.9 L1267.2 622.2 L1265.7 623.5 L1264.3 623.8 L1262.2 624.3 L1260.2 625.8 L1258.8 627.6 L1257.3 628.5 L1255.4 628.1 L1253.5 627.5 L1251.9 630.2 L1250.3 631.9 L1248.6 633.0 L1247.0 632.6 L1244.8 634.9 L1242.7 637.0 L1241.4 637.9 L1240.1 638.8 L1237.8 638.8 L1235.5 639.3 L1234.3 641.6 L1233.2 641.1 L1231.0 644.0 L1228.7 645.0 L1227.4 645.6 L1226.0 647.4 L1224.2 648.8 L1222.4 649.5 L1221.0 649.9 L1219.5 652.3 L1217.5 651.9 L1215.5 651.4 L1213.8 654.3 L1212.0 655.4 L1210.7 656.0 L1209.3 658.0 L1207.5 658.3 L1205.6 658.8 L1204.1 660.4 L1202.5 662.7 L1200.6 663.6 L1198.8 662.4 L1196.8 665.4 L1194.8 666.5 L1193.5 669.0 L1192.3 670.2 L1190.2 669.2 L1188.1 670.0 L1186.5 670.2 L1184.9 672.0 L1182.8 673.2 L1180.8 674.0 L1179.2 675.0 L1177.6 676.0 L1176.2 676.9 L1174.7 678.6 L1173.0 678.9 L1171.3 680.2 L1169.5 681.5 L1167.7 682.7 L1165.8 683.3 L1163.9 684.1 L1162.4 686.2 L1160.8 687.0 L1159.0 688.9 L1157.2 688.3 L1155.2 689.8 L1153.2 691.4 L1151.7 692.5 L1150.3 691.1 L1148.6 692.6 L1146.9 693.8 L1145.3 694.9 L1143.7 696.0 L1141.7 697.1 L1139.6 698.9 L1138.0 699.8 L1136.4 701.6 L1134.7 701.6 L1133.0 702.6 L1131.2 704.4 L1129.3 705.0 L1127.8 707.3 L1126.2 707.3 L1124.8 710.0 L1123.3 710.3 L1121.5 710.5 L1119.7 709.7 L1117.8 710.9 L1115.8 712.0 L1114.5 714.9 L1113.1 715.1 L1111.0 717.4 L1108.9 718.6 L1107.7 718.7 L1106.4 718.1 L1104.3 720.0 L1102.2 722.2 L1100.5 723.4 L1098.7 723.6 L1097.1 723.7 L1095.5 726.4 L1094.0 727.4 L1092.5 728.1 L1090.6 728.5 L1088.8 728.3 L1087.5 730.9 L1086.2 731.8 L1084.5 732.1 L1082.8 732.8 L1080.7 733.9 L1078.6 734.9 L1077.2 736.3 L1075.8 738.5 L1074.1 740.0 L1072.3 741.4 L1070.5 742.7 L1068.8 743.1 L1066.9 742.4 L1065.0 742.7 L1063.7 744.9 L1062.5 747.0 L1060.8 748.2 L1059.1 749.5 L1056.8 749.6 L1054.5 749.8 L1053.0 751.3 L1051.5 754.8" stroke-width="7.3" stroke-linejoin="round" stroke-linecap="round"/>
<path d="M1051.5 754.8 L1049.8 755.4 L1048.0 755.5 L1046.2 755.1 L1044.4 757.2 L1042.8 757.6 L1041.2 760.8 L1039.7 760.1 L1038.3 762.0 L1036.0 761.6 L1033.7 762.9 L1032.5 762.4 L1031.3 762.7 L1029.2 765.0 L1027.1 768.4 L1025.1 769.7 L1023.2 769.9 L1022.0 770.0 L1020.9 769.2 L1018.7 771.0 L1016.6 772.5 L1014.8 775.4 L1013.0 774.4 L1011.2 776.4 L1009.4 776.6 L1007.8 777.5 L1006.2 779.3 L1004.3 781.5 L1002.4 781.3 L1000.7 781.2 L999.0 782.3 L997.3 784.0 L995.6 785.3 L994.1 785.8 L992.5 788.3 L990.7 786.9 L988.9 787.2 L987.0 788.8 L985.2 790.9 L983.6 791.8 L982.0 792.9 L980.4 794.5 L978.8 796.0 L977.1 795.7 L975.3 795.5 L973.3 797.7 L971.3 796.6 L969.9 798.2 L968.6 798.8 L966.7 801.1 L964.9 802.8 L963.0 801.9 L961.1 802.7 L959.3 805.8 L957.5 807.4 L955.7 807.2 L953.8 809.4 L952.0 809.8 L950.1 809.1 L948.8 810.2 L947.6 812.8 L945.7 813.1 L943.7 813.6 L941.7 814.0 L939.6 814.7 L938.4 816.0 L937.2 818.4 L935.4 819.7 L933.6 820.6 L931.3 820.7 L929.0 821.9 L927.7 821.1 L926.4 822.4 L924.4 824.8 L922.3 825.9 L920.8 827.7 L919.2 828.9 L917.7 829.1 L916.1 830.2 L914.1 831.2 L912.0 831.6 L910.4 832.1 L908.7 831.9 L907.1 834.4 L905.4 834.2 L903.4 835.6 L901.3 837.2 L899.9 838.0 L898.4 840.9 L896.5 841.1 L894.7 841.2 L893.3 842.2 L891.9 841.9 L889.6 843.4 L887.4 846.6 L886.0 846.6 L884.6 846.0 L882.4 847.7 L880.2 849.0 L878.6 850.7 L877.0 850.1 L875.2 852.0 L873.3 852.2 L871.6 853.7 L869.9 855.7 L868.4 857.4 L866.9 858.9 L864.9 858.2 L862.9 859.3 L861.6 859.7 L860.3 861.7 L858.1 861.9 L855.9 862.0 L854.5 862.9 L853.1 864.1 L851.5 866.3 L849.9 866.9 L847.7 867.6 L845.4 868.8 L843.8 870.0 L842.1 872.4 L840.7 871.6 L839.3 874.3 L837.4 874.3 L835.4 875.0 L834.0 876.2 L832.5 877.2 L830.4 877.7 L828.3 877.0 L826.6 880.0 L824.9 879.6 L823.5 880.6 L822.1 882.5 L820.0 883.4 L817.8 884.8 L816.5 886.1 L815.1 888.2 L813.3 886.6 L811.6 886.8" stroke-width="6.8" stroke-linejoin="round" stroke-linecap="round"/>
<path d="M811.6 886.8 L809.4 888.4 L807.2 890.7 L805.6 890.3 L804.1 892.0 L802.6 894.3 L801.2 894.7 L798.9 896.2 L796.6 897.7 L795.3 898.1 L794.1 898.2 L792.3 899.2 L790.5 899.6 L788.7 902.7 L787.0 904.1 L785.1 904.8 L783.3 905.1 L781.2 906.3 L779.1 906.1 L777.9 907.9 L776.8 908.2 L774.5 910.6 L772.2 911.6 L770.9 911.3 L769.6 911.7 L767.8 913.2 L766.0 913.6 L764.0 915.3 L762.0 914.1 L760.5 917.4 L759.0 918.5 L757.0 919.4 L755.1 921.5 L753.6 920.2 L752.1 920.8 L749.9 922.9 L747.6 924.4 L746.4 925.1 L745.2 928.0 L743.1 927.6 L741.0 926.6 L739.5 927.5 L738.0 928.2 L736.0 930.8 L734.0 931.7 L732.5 932.6 L730.9 934.0 L728.8 933.4 L726.7 935.4 L725.1 935.9 L723.5 935.9 L721.4 937.2 L719.2 938.5 L717.8 940.2 L716.3 940.7 L714.3 943.1 L712.2 944.3 L711.0 944.4 L709.7 945.1 L707.8 944.0 L705.9 944.6 L704.0 946.2 L702.0 947.0 L700.6 948.2 L699.2 950.0 L697.4 950.8 L695.6 952.2 L693.8 951.6 L692.1 952.5 L689.7 953.6 L687.4 955.6 L686.0 956.1 L684.7 958.0 L682.9 958.4 L681.1 960.2 L679.3 960.2 L677.4 960.7 L675.3 961.6 L673.1 964.0 L671.9 963.8 L670.8 963.7 L668.7 965.1 L666.6 967.0 L664.9 967.2 L663.2 967.2 L661.6 969.3 L660.0 970.9 L657.9 970.3 L655.7 972.0 L653.8 973.7 L651.9 975.3 L650.7 974.9 L649.5 973.9 L647.3 975.2 L645.1 977.4 L643.2 979.3 L641.2 980.6 L639.5 979.2 L637.8 979.3 L636.6 981.5 L635.4 983.0 L633.5 983.6 L631.5 982.7 L629.4 985.9 L627.3 986.4 L625.5 988.2 L623.7 987.5 L622.4 988.3 L621.1 988.9 L619.2 991.2 L617.2 991.0 L615.4 993.2 L613.6 993.3 L611.5 995.1 L609.4 996.4 L607.9 997.0 L606.3 996.9 L604.8 997.3 L603.4 999.9 L601.0 1001.1 L598.6 1000.1 L597.1 1002.1 L595.6 1001.8 L593.6 1002.3 L591.6 1005.1 L590.5 1004.8 L589.3 1006.6 L586.9 1007.5 L584.6 1009.3 L583.4 1011.0 L582.2 1012.0 L580.3 1012.4 L578.5 1011.6 L576.6 1013.3 L574.8 1012.2 L572.5 1013.6 L570.3 1015.3 L569.0 1014.7 L567.6 1015.8" stroke-width="6.0" stroke-linejoin="round" stroke-linecap="round"/>
<path d="M567.6 1015.8 L565.7 1017.8 L563.8 1018.6 L562.0 1020.5 L560.3 1021.4 L558.3 1021.0 L556.3 1023.5 L554.7 1023.3 L553.2 1026.2 L551.6 1025.7 L550.0 1025.4 L547.8 1026.1 L545.6 1028.9 L544.3 1029.5 L543.0 1029.7 L541.0 1031.0 L538.9 1032.0 L537.0 1033.8 L535.2 1034.9 L533.4 1034.8 L531.6 1035.8 L529.9 1037.6 L528.3 1038.0 L526.7 1038.6 L525.0 1039.7 L523.2 1039.5 L521.4 1040.5 L519.8 1042.1 L518.2 1041.7 L516.2 1044.3 L514.2 1043.7 L512.4 1045.6 L510.7 1046.5 L509.2 1047.2 L507.7 1050.5 L505.5 1049.8 L503.2 1049.7 L501.3 1050.6 L499.4 1051.4 L497.9 1051.9 L496.3 1051.9 L494.6 1053.2 L492.9 1055.7 L491.0 1055.7 L489.2 1057.2 L487.6 1060.0 L486.1 1061.7 L484.1 1062.9 L482.2 1062.6 L481.0 1062.4 L479.9 1064.1 L477.8 1065.5 L475.8 1066.8 L474.4 1066.6 L472.9 1068.1 L471.1 1068.8 L469.2 1070.7 L467.5 1072.5 L465.8 1072.0 L464.1 1072.1 L462.4 1073.7 L460.4 1073.6 L458.4 1074.9 L456.9 1077.1 L455.5 1080.1 L453.4 1079.7 L451.3 1080.8 L449.8 1081.7 L448.3 1081.6 L446.6 1083.8 L444.9 1086.0 L443.2 1086.1 L441.6 1087.9 L439.4 1086.9 L437.3 1087.0 L435.6 1088.7 L434.0 1089.0 L432.5 1091.5 L431.1 1091.4 L429.3 1093.8 L427.6 1094.8 L425.9 1094.5 L424.3 1094.4 L421.9 1096.1 L419.6 1097.2 L417.9 1098.1 L416.2 1099.6 L414.4 1100.4 L412.6 1100.6 L411.2 1102.1 L409.9 1103.4 L408.1 1104.8 L406.4 1105.8 L404.6 1107.0 L402.7 1107.7 L401.1 1108.0 L399.4 1108.7 L397.5 1109.1 L395.5 1110.6 L393.8 1111.7 L392.1 1111.6 L390.6 1113.5 L389.0 1115.1 L387.1 1115.6 L385.2 1118.5 L383.4 1117.9 L381.7 1118.8 L379.9 1120.6 L378.1 1120.5 L376.3 1121.2 L374.4 1123.0 L372.8 1122.7 L371.3 1124.7 L369.4 1125.7 L367.5 1127.0 L365.5 1127.8 L363.4 1129.4 L361.9 1129.5 L360.3 1128.7 L358.5 1130.0 L356.8 1131.1 L355.0 1132.4 L353.3 1132.0 L351.6 1135.0 L349.9 1137.2 L348.0 1136.9 L346.1 1138.8 L344.4 1138.6 L342.7 1140.5 L340.9 1140.3 L339.2 1142.0 L337.4 1142.1 L335.6 1141.7 L334.3 1144.1 L332.9 1143.7 L330.6 1145.0 L328.2 1146.0 L327.0 1148.0" stroke-width="4.9" stroke-linejoin="round" stroke-linecap="round"/>
<path d="M339.6 1118.5 L378.0 940.0 L425.0 720.0 L455.0 580.0 L530.3 218.9 L533.1 251.1 L546.3 235.0 L549.2 243.5 L556.7 247.3" stroke-width="4.8" stroke-linecap="butt" stroke-linejoin="round"/>
<path d="M556.0 246.3H558.2H560.5H562.7V248.6H565.0V250.9H567.3V253.1V255.4H569.5H574.0H576.3V257.6H578.6V259.9H580.8V257.6H583.1H585.3V255.4H587.6H589.9V253.1H592.1H594.4H596.6V255.4H598.9V257.6H601.2V259.9V262.2H603.4V264.4H601.2V266.7V268.9V271.2V273.5V275.7H603.4H605.7H607.9V273.5H610.2H612.5H614.7V275.7H619.2H621.5H623.8H626.0H628.3H630.5V280.2V282.5V284.8V287.0H632.8V291.5V293.8H635.1H637.3H639.6H641.8H646.4H648.6V296.1H650.9H653.1H655.4H657.7H659.9H662.2V298.3H664.4V300.6H666.7H669.0V302.8H671.2V307.4H673.5V309.6V311.9V314.1H675.7H678.0V316.4H680.3H682.5V318.7H684.8V320.9V323.2H687.0V325.4H689.3V323.2H691.6H696.1V320.9H698.3V323.2H700.6H702.9V325.4V327.7H705.1H707.4V332.2H709.6V334.5V336.7H711.9V339.0V343.5H714.2H716.4V345.8H718.7V343.5H720.9V345.8H723.2H725.5V348.0H727.7H730.0V352.6H732.2H734.5H736.8V350.3H739.0H741.3H743.5H745.8V354.8H748.1V359.3V361.6V363.9H750.3H752.6V366.1H754.8V370.6H757.1V372.9H759.4H761.6H763.9V370.6H766.1H768.4H770.7V372.9H772.9V375.2H775.2V372.9H777.4H779.7H782.0H784.2V375.2V377.4" stroke-width="6.8"/>
<path d="M784.2 377.4H786.5H788.7V379.7V381.9H791.0H793.3V384.2H791.0V381.9H788.7V379.7H786.5H784.2V377.4H786.5V379.7H788.7V381.9H791.0V384.2H793.3V386.5H795.5V391.0V393.2H797.8H800.0H802.3V395.5H804.6V397.8H806.8V400.0H809.1V397.8H811.3H813.6H815.9V400.0H818.1H820.4V402.3H822.6H824.9H827.2V404.5H829.4H831.7V406.8H836.2V404.5H838.5V406.8H840.7H843.0V409.1H845.2V411.3H847.5V413.6V415.8H849.8V418.1V420.4H852.0V422.6H849.8V424.9V427.1V429.4H852.0V431.7H854.3V433.9V436.2H856.5V440.7V443.0H858.8V445.2H861.1H863.3V447.5H865.6H867.8V449.7H870.1V452.0H872.4V454.3H874.6H876.9H879.1H881.4V456.5V458.8H883.7V461.0H885.9V463.3H888.2H890.4V465.6H892.7H895.0H897.2V467.8H899.5H901.7V470.1H904.0V472.3V474.6H906.3V476.9V479.1H908.5V481.4H910.8H913.0V483.6H915.3H917.6H919.8H922.1H926.6H928.9H931.1V485.9V490.4V492.7H933.4V494.9V497.2V501.7H935.6V504.0V506.2H937.9V508.5H940.2H942.4V506.2H944.7H946.9V504.0H949.2H951.5H953.7H956.0V501.7H958.2V504.0H960.5V501.7V504.0H962.8H965.0V506.2H967.3V508.5H969.5V510.8H971.8V513.0H974.1V510.8H976.3H978.6H980.8H983.1H985.4V513.0H987.6V515.3V517.5H989.9V519.8H992.1H994.4V522.1H996.7V519.8H998.9" stroke-width="7.5"/>
<path d="M998.9 519.8H1001.2H1003.4H1005.7H1010.2H1012.5V522.1H1014.7V524.3H1017.0V528.8H1019.3V526.6H1021.5H1023.8H1026.0H1028.3V528.8H1030.6H1032.8V531.1V533.4H1035.1V535.6H1037.3H1039.6H1041.9H1044.1V537.9H1046.4V535.6H1048.6V537.9H1050.9H1053.2V535.6H1055.4V537.9H1057.7V535.6V537.9H1059.9V540.1H1062.2V537.9H1064.5H1066.7H1069.0H1071.2H1073.5V540.1H1075.8H1078.0V542.4H1080.3V544.7H1082.5H1084.8H1087.1H1091.6H1093.8H1096.1H1098.4V542.4V544.7H1102.9H1105.1H1107.4H1109.7V546.9H1111.9H1116.4H1118.7H1121.0V544.7H1123.2V546.9H1125.5V549.2H1127.7H1130.0H1132.3V551.4H1134.5V553.7H1136.8H1139.0V556.0V558.2H1141.3H1143.6H1145.8V560.5V562.7H1148.1V565.0H1150.3H1152.6H1154.9V567.3H1157.1H1159.4V569.5H1161.6V567.3H1163.9V565.0H1166.2H1168.4V562.7H1170.7V565.0H1172.9H1175.2V567.3H1177.5H1179.7H1182.0V569.5H1184.2H1186.5H1188.8V571.8H1193.3H1195.5H1197.8H1200.1V574.0H1202.3H1204.6H1206.8H1209.1H1211.4H1213.6V576.3H1215.9H1218.1V578.6H1220.4H1222.7V580.8H1224.9V583.1H1227.2V585.3H1229.4V587.6V589.9H1231.7V594.4H1234.0V596.6H1236.2H1238.5H1240.7V594.4H1243.0V598.9H1245.3H1249.8V601.2H1252.0V598.9H1254.3H1256.6H1258.8H1261.1H1263.3H1265.6H1267.9H1270.1V601.2H1272.4H1276.9V603.4V601.2H1279.2H1281.4H1283.7V603.4" stroke-width="8.4"/>
</g>
<g fill="none" stroke="#B177DE" stroke-linejoin="miter" stroke-linecap="square">
<path d="M1366.6 621.1 L1365.5 624.0 L1363.8 625.1 L1362.0 624.7 L1360.1 626.6 L1358.9 626.5 L1357.7 628.7 L1356.2 629.8 L1354.5 632.0 L1352.9 632.5 L1351.3 633.1 L1349.3 633.0 L1347.3 633.5 L1346.0 635.6 L1344.7 636.6 L1342.8 636.8 L1340.9 640.2 L1338.8 641.0 L1336.7 640.6 L1335.5 642.5 L1334.2 644.3 L1332.5 645.8 L1330.9 646.2 L1328.8 646.7 L1326.7 648.1 L1325.2 648.6 L1323.7 648.6 L1322.1 650.5 L1320.5 651.1 L1318.8 650.8 L1317.1 650.8 L1314.8 651.6 L1312.5 652.9 L1311.3 656.0 L1310.1 658.3 L1308.0 658.3 L1305.9 660.0 L1304.5 659.2 L1303.1 660.6 L1301.3 662.1 L1299.5 663.2 L1297.6 663.1 L1295.8 663.4 L1294.3 666.1 L1292.9 666.3 L1291.1 667.1 L1289.3 667.1 L1287.7 668.1 L1286.1 670.6 L1284.3 670.9 L1282.6 672.5 L1280.6 672.9 L1278.6 673.8 L1277.0 675.4 L1275.3 677.8 L1273.6 677.1 L1271.8 679.5 L1269.9 680.1 L1268.0 681.5 L1266.3 680.9 L1264.7 680.9 L1262.9 683.6 L1261.2 685.0 L1259.3 685.5 L1257.4 685.2 L1255.7 687.4 L1253.9 689.7 L1252.5 689.5 L1251.1 690.2 L1249.4 690.0 L1247.6 693.0 L1245.8 692.2 L1243.9 694.3 L1242.1 694.8 L1240.3 694.5 L1238.5 695.8 L1236.6 697.0 L1234.9 698.8 L1233.1 698.7 L1231.4 700.6 L1229.7 702.1 L1227.5 702.1 L1225.3 705.0 L1223.8 705.3 L1222.4 704.2 L1220.9 704.8 L1219.5 705.6 L1217.2 706.8 L1215.0 708.4 L1213.4 710.6 L1211.8 712.6 L1209.8 712.0 L1207.8 713.1 L1206.1 713.4 L1204.4 715.4 L1203.1 714.2 L1201.7 715.2 L1199.4 715.4 L1197.1 716.6 L1195.8 719.8 L1194.6 720.1 L1192.8 721.2 L1191.0 722.3 L1189.3 722.8 L1187.6 722.2 L1185.4 723.8 L1183.3 726.3 L1181.9 727.3 L1180.6 728.2 L1178.5 729.3 L1176.3 729.3 L1174.6 731.7 L1172.9 730.9 L1171.5 732.0 L1170.0 732.5 L1168.0 734.6 L1166.0 736.5 L1164.3 736.4 L1162.6 735.4 L1160.5 738.3 L1158.3 740.0 L1156.5 741.8 L1154.7 741.8 L1153.1 742.2 L1151.5 742.2 L1149.6 743.4 L1147.7 744.4 L1146.4 744.8 L1145.1 746.0 L1142.9 746.9 L1140.7 749.4 L1139.4 751.4 L1138.1 750.9 L1136.1 751.4 L1134.2 752.2 L1132.1 753.5 L1130.0 754.5 L1128.5 754.6 L1127.1 756.1 L1125.0 755.5 L1123.0 756.8 L1121.3 756.2 L1119.7 757.3 L1117.6 759.0 L1115.5 761.2 L1114.2 762.1 L1112.9 760.8" stroke-width="6.7" stroke-linejoin="round" stroke-linecap="round"/>
<path d="M1112.9 760.8 L1111.1 764.0 L1109.3 763.8 L1107.4 765.7 L1105.5 765.9 L1103.7 766.1 L1102.0 767.5 L1100.0 768.8 L1098.0 768.8 L1096.1 771.2 L1094.2 771.0 L1092.5 773.4 L1090.8 773.9 L1089.3 775.6 L1087.8 775.7 L1085.9 776.0 L1084.0 777.4 L1081.9 778.3 L1079.9 779.1 L1078.2 778.3 L1076.4 779.3 L1074.8 782.3 L1073.2 782.9 L1071.1 784.4 L1069.0 784.9 L1067.2 785.7 L1065.5 786.6 L1064.0 786.4 L1062.4 786.3 L1060.4 787.5 L1058.5 789.3 L1057.2 790.2 L1055.9 790.4 L1053.6 792.5 L1051.3 791.9 L1049.9 794.1 L1048.5 794.6 L1046.8 795.7 L1045.0 796.2 L1042.9 797.4 L1040.8 798.4 L1039.2 798.4 L1037.6 799.5 L1036.1 800.5 L1034.6 803.1 L1032.5 801.6 L1030.5 803.1 L1028.6 804.0 L1026.6 805.8 L1025.2 806.8 L1023.8 808.5 L1021.6 809.6 L1019.3 809.3 L1018.0 811.7 L1016.7 812.9 L1014.5 812.1 L1012.3 812.2 L1010.5 812.9 L1008.8 815.5 L1007.0 815.4 L1005.1 816.5 L1003.6 818.3 L1002.0 819.3 L1000.3 820.2 L998.7 820.7 L996.8 820.7 L994.9 822.2 L992.8 822.0 L990.7 823.0 L989.4 825.1 L988.1 824.3 L986.2 825.5 L984.2 827.9 L982.3 828.1 L980.4 830.2 L978.8 830.3 L977.2 831.1 L975.0 832.1 L972.7 832.8 L971.2 832.4 L969.8 835.4 L968.1 835.8 L966.4 836.3 L964.7 837.3 L962.9 837.6 L961.0 839.1 L959.2 840.3 L957.0 840.4 L954.8 842.2 L953.3 841.6 L951.8 843.5 L949.8 844.9 L947.9 846.2 L946.3 846.3 L944.8 847.1 L942.9 848.5 L940.9 847.8 L939.2 849.3 L937.4 850.2 L935.7 851.0 L934.0 850.7 L932.2 852.6 L930.5 853.5 L928.9 853.8 L927.3 855.5 L925.1 855.1 L922.9 856.9 L921.1 858.3 L919.4 859.4 L917.5 860.8 L915.7 859.0 L913.8 861.2 L912.0 863.7 L910.7 864.8 L909.4 863.1 L907.6 864.1 L905.9 866.0 L903.6 866.8 L901.3 869.7 L899.7 868.6 L898.0 869.9 L896.6 870.6 L895.2 872.2 L893.4 871.8 L891.5 874.1 L889.8 875.4 L888.1 876.4 L886.3 877.5 L884.6 877.3 L882.3 878.6 L880.1 878.3 L878.2 879.1 L876.2 880.3 L874.6 882.1 L872.9 882.5 L871.3 882.5 L869.6 883.6 L867.5 884.4 L865.4 887.5 L863.8 887.2 L862.2 886.8 L860.5 889.5 L858.9 891.1 L857.2 890.7 L855.6 892.0 L853.5 892.6 L851.3 894.2" stroke-width="6.2" stroke-linejoin="round" stroke-linecap="round"/>
<path d="M851.3 894.2 L849.5 894.7 L847.7 895.2 L846.1 896.4 L844.4 896.5 L842.5 896.6 L840.5 897.9 L838.8 899.4 L837.0 898.4 L835.2 900.8 L833.4 901.5 L832.1 904.2 L830.7 904.8 L829.0 906.6 L827.3 907.1 L824.9 907.7 L822.6 906.9 L821.3 908.6 L820.0 911.0 L818.3 911.6 L816.5 911.6 L814.6 911.6 L812.7 913.8 L810.7 913.4 L808.7 916.5 L807.2 916.6 L805.8 916.1 L803.5 917.7 L801.2 918.1 L799.4 919.5 L797.6 920.3 L796.4 920.7 L795.2 921.6 L793.0 923.5 L790.7 923.5 L789.4 923.5 L788.0 925.1 L786.1 926.1 L784.3 927.7 L782.0 929.3 L779.8 929.0 L778.0 930.2 L776.3 931.3 L774.8 931.2 L773.4 931.8 L771.3 933.0 L769.2 934.1 L767.7 936.2 L766.3 937.6 L764.5 936.8 L762.7 938.1 L760.7 938.4 L758.6 939.2 L757.0 941.3 L755.3 942.2 L753.4 941.5 L751.4 943.2 L750.1 944.7 L748.7 946.0 L746.7 946.9 L744.7 947.0 L743.0 946.7 L741.2 949.5 L739.3 949.9 L737.5 951.0 L735.3 951.1 L733.1 951.2 L731.8 951.9 L730.6 952.1 L728.7 952.6 L726.8 954.8 L724.8 955.8 L722.8 956.5 L721.1 957.7 L719.3 960.4 L717.4 959.1 L715.6 959.7 L713.9 959.7 L712.3 961.1 L710.3 962.1 L708.4 962.7 L706.4 964.5 L704.4 964.5 L702.8 965.0 L701.1 967.3 L699.1 968.2 L697.1 967.5 L695.1 970.4 L693.2 971.7 L691.7 972.0 L690.2 972.9 L688.7 973.1 L687.1 974.2 L685.2 975.0 L683.3 976.8 L681.1 975.4 L679.0 977.1 L677.4 977.4 L675.7 980.0 L674.0 980.8 L672.2 982.2 L670.4 981.9 L668.6 981.2 L666.7 982.9 L664.8 984.9 L663.0 984.0 L661.2 985.5 L659.5 987.0 L657.9 988.7 L656.2 988.6 L654.5 989.8 L652.4 991.3 L650.4 991.8 L648.7 992.9 L647.1 993.8 L645.2 993.0 L643.3 993.6 L641.2 994.4 L639.0 996.0 L637.3 996.3 L635.6 997.9 L633.8 999.1 L632.0 1000.6 L630.2 999.5 L628.4 1001.1 L626.7 1001.4 L625.0 1003.2 L623.0 1003.2 L621.1 1003.1 L619.8 1004.9 L618.4 1006.4 L616.4 1006.7 L614.4 1010.0 L612.4 1009.6 L610.3 1009.8 L608.7 1010.0 L607.1 1011.5 L605.5 1012.6 L603.8 1014.1 L601.5 1013.3 L599.2 1014.2 L597.7 1015.0 L596.2 1016.9 L594.6 1017.7 L593.0 1017.9 L590.8 1019.4 L588.6 1020.1" stroke-width="5.5" stroke-linejoin="round" stroke-linecap="round"/>
<path d="M588.6 1020.1 L587.1 1019.9 L585.6 1022.0 L583.8 1022.7 L581.9 1024.3 L579.8 1024.8 L577.7 1023.8 L575.7 1026.6 L573.8 1027.0 L572.4 1027.8 L571.1 1026.5 L569.0 1029.2 L566.9 1029.5 L565.1 1031.0 L563.2 1032.7 L561.5 1033.4 L559.7 1034.2 L558.1 1035.2 L556.5 1035.1 L554.8 1035.5 L553.0 1037.6 L551.3 1038.6 L549.5 1036.9 L547.5 1039.0 L545.6 1041.6 L543.4 1041.1 L541.2 1042.1 L539.6 1042.8 L537.9 1041.7 L535.8 1043.7 L533.8 1045.4 L532.1 1046.0 L530.4 1045.7 L528.7 1048.2 L527.0 1050.2 L525.0 1048.4 L523.1 1048.2 L521.5 1049.4 L519.9 1050.8 L517.9 1051.6 L515.8 1053.3 L514.4 1053.7 L512.9 1054.9 L510.9 1056.8 L508.9 1058.2 L507.0 1057.7 L505.1 1058.8 L503.6 1059.1 L502.1 1061.5 L500.0 1062.6 L498.0 1063.2 L496.0 1063.3 L494.0 1064.9 L492.8 1067.2 L491.5 1067.6 L489.7 1067.8 L487.8 1066.4 L486.1 1069.5 L484.4 1070.2 L482.3 1072.6 L480.1 1073.7 L478.3 1073.2 L476.5 1073.1 L475.0 1075.5 L473.5 1077.0 L471.3 1076.7 L469.2 1076.6 L467.9 1077.7 L466.7 1079.9 L464.7 1081.0 L462.7 1080.6 L460.8 1081.2 L459.0 1083.8 L456.9 1084.1 L454.8 1085.6 L453.1 1085.9 L451.5 1087.4 L449.8 1089.4 L448.1 1089.8 L446.6 1091.2 L445.2 1090.9 L442.8 1092.1 L440.5 1094.1 L439.0 1094.3 L437.5 1093.8 L435.3 1095.5 L433.2 1097.7 L431.9 1098.3 L430.7 1098.8 L428.8 1098.9 L426.8 1099.6 L425.0 1099.2 L423.3 1100.6 L421.4 1101.7 L419.6 1102.4 L417.4 1105.0 L415.2 1104.1 L413.4 1106.6 L411.7 1106.0 L409.7 1107.4 L407.8 1109.0 L406.3 1109.0 L404.8 1109.3 L402.7 1110.0 L400.6 1110.2 L398.9 1113.2 L397.1 1114.5 L395.3 1113.8 L393.5 1113.9 L392.2 1116.1 L390.9 1117.1 L389.0 1117.8 L387.1 1118.6 L384.9 1120.2 L382.8 1121.3 L381.4 1120.8 L380.1 1122.1 L377.7 1122.3 L375.4 1124.0 L373.6 1124.2 L371.8 1126.2 L370.1 1127.5 L368.4 1128.4 L366.9 1127.5 L365.4 1127.5 L363.1 1129.1 L360.8 1130.8 L359.5 1130.2 L358.1 1131.8 L356.2 1133.9 L354.2 1133.4 L352.5 1135.5 L350.9 1135.3 L348.8 1137.0 L346.7 1137.2 L344.7 1138.1 L342.7 1139.1 L340.9 1140.1 L339.1 1141.2 L337.7 1142.9 L336.3 1143.1 L334.4 1144.3 L332.4 1144.8 L330.8 1146.1 L329.2 1146.8 L327.0 1147.0" stroke-width="4.5" stroke-linejoin="round" stroke-linecap="round"/>
<path d="M339.1 1128.6 L384.5 940.0 L418.0 800.0 L437.3 720.0 L469.8 580.0 L501.3 450.0 L551.1 241.6 L554.9 262.4 L560.5 249.2" stroke-width="4.8" stroke-linecap="butt" stroke-linejoin="round"/>
<path d="M560.5 248.6V253.1H562.7V255.4H565.0V257.6H567.3H569.5V259.9V262.2H571.8V266.7V264.4H574.0H576.3H578.6H580.8H583.1H585.3V266.7H587.6V268.9V266.7H589.9V264.4H592.1V262.2V259.9H594.4H596.6V262.2H601.2H603.4V264.4V266.7H605.7V268.9V271.2H607.9V273.5V278.0V280.2H610.2V282.5V284.8V282.5H614.7V280.2H617.0H619.2V278.0H621.5V280.2H623.8V282.5V284.8H626.0V287.0H628.3V289.3V293.8V296.1H630.5V300.6V305.1V307.4H632.8V309.6V307.4H635.1V305.1H637.3V302.8H639.6H641.8V305.1H644.1V307.4V309.6H646.4H648.6V311.9V314.1H650.9V316.4H653.1V318.7H655.4V320.9H657.7H659.9H664.4V318.7H666.7V316.4H669.0H671.2V314.1V316.4H673.5V320.9V323.2H675.7V325.4V327.7H678.0V330.0H680.3V332.2V336.7V339.0H682.5V341.3H684.8V343.5V345.8H687.0V348.0H689.3V345.8H691.6V343.5H693.8H696.1H698.3H700.6V345.8H702.9V348.0H705.1H707.4H709.6H711.9H714.2H716.4H718.7H720.9V350.3H723.2V352.6H725.5V354.8H727.7V357.1V359.3H730.0V361.6H732.2V363.9H734.5H736.8V361.6H739.0V359.3H741.3H743.5H745.8V361.6H748.1V363.9V366.1V368.4V372.9H750.3V377.4H752.6V379.7V381.9H754.8V384.2V386.5H757.1H759.4H761.6H763.9V388.7H766.1V393.2V395.5H768.4H770.7V400.0H772.9V402.3H775.2V400.0H777.4H779.7V397.8H782.0V395.5H784.2V397.8H786.5V395.5H788.7V391.0H791.0H793.3V393.2" stroke-width="7.0"/>
<path d="M793.3 393.2H795.5H797.8V395.5H800.0V397.8V402.3H802.3V404.5H804.6V406.8V409.1H806.8V411.3H809.1V413.6H811.3H813.6H815.9H818.1H820.4H822.6H824.9V415.8H827.2V418.1V420.4H829.4V422.6H831.7V427.1H833.9V429.4H836.2V431.7H838.5V433.9H840.7V436.2H843.0H845.2V438.4V440.7H847.5H849.8V443.0V447.5H852.0V449.7H854.3H856.5V447.5H858.8H861.1H863.3H865.6H867.8V449.7H870.1V452.0V454.3H872.4V456.5H874.6V461.0H876.9V463.3H879.1H881.4V465.6H883.7V467.8H885.9H888.2H890.4V465.6H892.7H895.0H897.2H899.5V463.3H901.7V465.6V467.8H904.0H906.3V470.1H908.5V472.3V474.6H910.8H913.0V476.9H915.3H917.6H919.8H922.1H924.3H926.6V479.1H928.9V476.9H931.1V474.6H933.4H935.6H937.9H940.2H942.4H944.7H946.9H949.2H951.5H953.7H956.0H958.2V476.9H960.5V479.1V481.4V483.6V485.9H962.8V490.4V492.7H965.0H967.3V494.9H969.5V497.2H971.8H974.1V499.5H976.3H978.6V497.2H980.8H983.1H985.4H987.6V499.5H989.9H992.1V501.7H994.4H996.7H998.9V504.0V506.2H1001.2V504.0H1003.4H1005.7V506.2H1008.0H1010.2V508.5H1012.5V510.8H1014.7H1017.0V513.0V515.3H1019.3H1021.5H1023.8V517.5V519.8H1026.0H1028.3V522.1H1030.6V524.3H1032.8V526.6H1035.1H1037.3V524.3H1039.6H1041.9H1044.1H1046.4H1048.6H1050.9H1053.2H1057.7V526.6H1059.9H1062.2H1064.5H1066.7H1069.0V528.8H1071.2V531.1H1073.5V528.8H1075.8" stroke-width="7.7"/>
<path d="M1075.8 528.8H1078.0V531.1H1080.3V533.4H1082.5V535.6H1084.8V537.9V540.1H1087.1V542.4V544.7H1089.3V546.9V549.2V551.4V553.7H1091.6V556.0V558.2H1093.8H1096.1H1098.4H1100.6V560.5H1102.9H1107.4H1109.7H1111.9V558.2H1114.2V556.0H1116.4V553.7H1118.7H1121.0V551.4H1123.2H1125.5V549.2H1127.7V551.4H1130.0H1132.3V549.2H1134.5V546.9H1136.8V549.2H1139.0V546.9H1141.3H1143.6V544.7H1145.8H1148.1V546.9H1150.3H1152.6V549.2H1154.9H1157.1H1159.4H1161.6V546.9H1163.9H1166.2H1168.4H1170.7V549.2H1172.9H1175.2H1177.5H1179.7V551.4H1182.0H1184.2V553.7H1186.5H1188.8H1191.0H1193.3H1195.5H1197.8V556.0H1200.1V558.2H1202.3H1204.6H1206.8V556.0H1211.4V558.2H1213.6H1215.9V562.7H1218.1H1220.4V565.0H1222.7V567.3H1224.9H1227.2H1229.4H1234.0V569.5V571.8V574.0V576.3V578.6H1236.2V580.8V583.1V585.3H1238.5V587.6V592.1V596.6H1240.7V598.9H1243.0V596.6H1245.3H1247.5H1249.8V594.4H1252.0H1256.6V592.1H1258.8V589.9V592.1H1261.1H1263.3H1265.6H1267.9H1270.1H1272.4H1274.6H1276.9H1279.2H1281.4H1283.7H1285.9H1288.2V594.4H1292.7H1295.0V596.6H1297.2V598.9V601.2H1299.5H1301.8H1304.0H1306.3V603.4H1308.5V605.7H1310.8V607.9V610.2H1315.3H1317.6H1319.8H1322.1H1324.4V607.9H1328.9V605.7H1331.1V607.9H1333.4V610.2V612.5H1335.7V614.7H1337.9H1340.2H1342.4V617.0H1344.7H1347.0H1349.2H1351.5H1353.7H1356.0H1358.3V619.2H1360.5V621.5H1365.0H1367.3" stroke-width="8.6"/>
</g>
<g stroke="#000" fill="none" stroke-linecap="butt">
<path d="M180.6 66.7 V1255.9" stroke-width="5.2"/>
<path d="M178.0 1253.1 H1514.4" stroke-width="5.6"/>
</g>
<g stroke="#000" stroke-width="4.9" fill="none">
<path d="M180.6 1135.4 h22.6"/>
<path d="M180.6 1016.9 h10.4"/>
<path d="M180.6 898.3 h22.6"/>
<path d="M180.6 779.8 h10.4"/>
<path d="M180.6 661.2 h22.6"/>
<path d="M180.6 542.7 h10.4"/>
<path d="M180.6 424.1 h22.6"/>
<path d="M180.6 305.6 h10.4"/>
<path d="M180.6 187.0 h22.6"/>
<path d="M180.6 69.1 h10.4"/>
<path d="M259.2 1253.1 v-10.4"/>
<path d="M337.6 1253.1 v-24.3"/>
<path d="M416.0 1253.1 v-10.4"/>
<path d="M494.3 1253.1 v-24.3"/>
<path d="M572.7 1253.1 v-10.4"/>
<path d="M651.0 1253.1 v-24.3"/>
<path d="M729.4 1253.1 v-10.4"/>
<path d="M807.7 1253.1 v-24.3"/>
<path d="M886.1 1253.1 v-10.4"/>
<path d="M964.4 1253.1 v-24.3"/>
<path d="M1042.8 1253.1 v-10.4"/>
<path d="M1121.1 1253.1 v-24.3"/>
<path d="M1199.5 1253.1 v-10.4"/>
<path d="M1277.8 1253.1 v-24.3"/>
<path d="M1356.2 1253.1 v-10.4"/>
<path d="M1434.5 1253.1 v-24.3"/>
<path d="M1512.0 1253.1 v-10.4"/>
</g>
<g font-family="'Liberation Serif', serif">
<text transform="translate(158.8 1155.2) scale(0.9100 1)" font-size="52.5" text-anchor="end" font-weight="normal" fill="#161616" stroke="#fff" stroke-width="0.55">0</text>
<text transform="translate(158.8 918.1) scale(0.9100 1)" font-size="52.5" text-anchor="end" font-weight="normal" fill="#161616" stroke="#fff" stroke-width="0.55">10</text>
<text transform="translate(158.8 681.0) scale(0.9100 1)" font-size="52.5" text-anchor="end" font-weight="normal" fill="#161616" stroke="#fff" stroke-width="0.55">20</text>
<text transform="translate(158.8 443.9) scale(0.9100 1)" font-size="52.5" text-anchor="end" font-weight="normal" fill="#161616" stroke="#fff" stroke-width="0.55">30</text>
<text transform="translate(158.8 206.8) scale(0.9100 1)" font-size="52.5" text-anchor="end" font-weight="normal" fill="#161616" stroke="#fff" stroke-width="0.55">40</text>
<text transform="translate(181.5 1322.6) scale(0.9100 1)" font-size="52.5" text-anchor="middle" font-weight="normal" fill="#161616" stroke="#fff" stroke-width="0.55">−5</text>
<text transform="translate(338.2 1322.6) scale(0.9100 1)" font-size="52.5" text-anchor="middle" font-weight="normal" fill="#161616" stroke="#fff" stroke-width="0.55">0</text>
<text transform="translate(494.9 1322.6) scale(0.9100 1)" font-size="52.5" text-anchor="middle" font-weight="normal" fill="#161616" stroke="#fff" stroke-width="0.55">5</text>
<text transform="translate(651.6 1322.6) scale(0.9100 1)" font-size="52.5" text-anchor="middle" font-weight="normal" fill="#161616" stroke="#fff" stroke-width="0.55">10</text>
<text transform="translate(808.3 1322.6) scale(0.9100 1)" font-size="52.5" text-anchor="middle" font-weight="normal" fill="#161616" stroke="#fff" stroke-width="0.55">15</text>
<text transform="translate(965.0 1322.6) scale(0.9100 1)" font-size="52.5" text-anchor="middle" font-weight="normal" fill="#161616" stroke="#fff" stroke-width="0.55">20</text>
<text transform="translate(1121.7 1322.6) scale(0.9100 1)" font-size="52.5" text-anchor="middle" font-weight="normal" fill="#161616" stroke="#fff" stroke-width="0.55">25</text>
<text transform="translate(1278.4 1322.6) scale(0.9100 1)" font-size="52.5" text-anchor="middle" font-weight="normal" fill="#161616" stroke="#fff" stroke-width="0.55">30</text>
<text transform="translate(1435.1 1322.6) scale(0.9100 1)" font-size="52.5" text-anchor="middle" font-weight="normal" fill="#161616" stroke="#fff" stroke-width="0.55">35</text>
<text transform="translate(844.5 1411.0) scale(0.8870 1)" font-size="69.0" text-anchor="middle" font-weight="normal" fill="#111">Displacement(mm)</text>
<text transform="translate(87 661) rotate(-90) scale(1.0950 1)" font-size="63.5" text-anchor="middle" fill="#111">Load(N)</text>
<text transform="translate(673.6 125.0) scale(1.0470 1)" font-size="54.7" text-anchor="middle" font-weight="normal" fill="#000">5%MAX</text>
<path d="M1158 42.7 H1294.5" stroke="#F14040" stroke-width="5.4" fill="none"/>
<text transform="translate(1308.0 67.3) scale(0.8870 1)" font-size="69.0" text-anchor="start" font-weight="normal" fill="#000">non-aging</text>
<path d="M1158 124.7 H1294.5" stroke="#515151" stroke-width="5.4" fill="none"/>
<text transform="translate(1308.0 149.3) scale(0.8870 1)" font-size="69.0" text-anchor="start" font-weight="normal" fill="#000">Aging 10 days</text>
<path d="M1158 210.0 H1294.5" stroke="#37AD6B" stroke-width="5.4" fill="none"/>
<text transform="translate(1308.0 234.6) scale(0.8870 1)" font-size="69.0" text-anchor="start" font-weight="normal" fill="#000">Aging 20 days</text>
<path d="M1158 292.0 H1294.5" stroke="#1A6FDF" stroke-width="5.4" fill="none"/>
<text transform="translate(1308.0 316.6) scale(0.8870 1)" font-size="69.0" text-anchor="start" font-weight="normal" fill="#000">Aging 30 days</text>
<path d="M1158 374.8 H1294.5" stroke="#B177DE" stroke-width="5.4" fill="none"/>
<text transform="translate(1308.0 399.4) scale(0.8870 1)" font-size="69.0" text-anchor="start" font-weight="normal" fill="#000">Aging 50 days</text>
<text transform="translate(805.6 1547) scale(0.94 1)" font-size="81" text-anchor="middle" fill="#000">(<tspan font-weight="bold">a</tspan>)</text>
</g>
<path d="M622.5 135.7 L547.9 202.3" stroke="#000" stroke-width="6.8" fill="none"/>
<path d="M532.6 216.0 L543.0 193.9 L555.8 208.2 Z" fill="#000"/>
</g>
</svg>
</body>
</html>
